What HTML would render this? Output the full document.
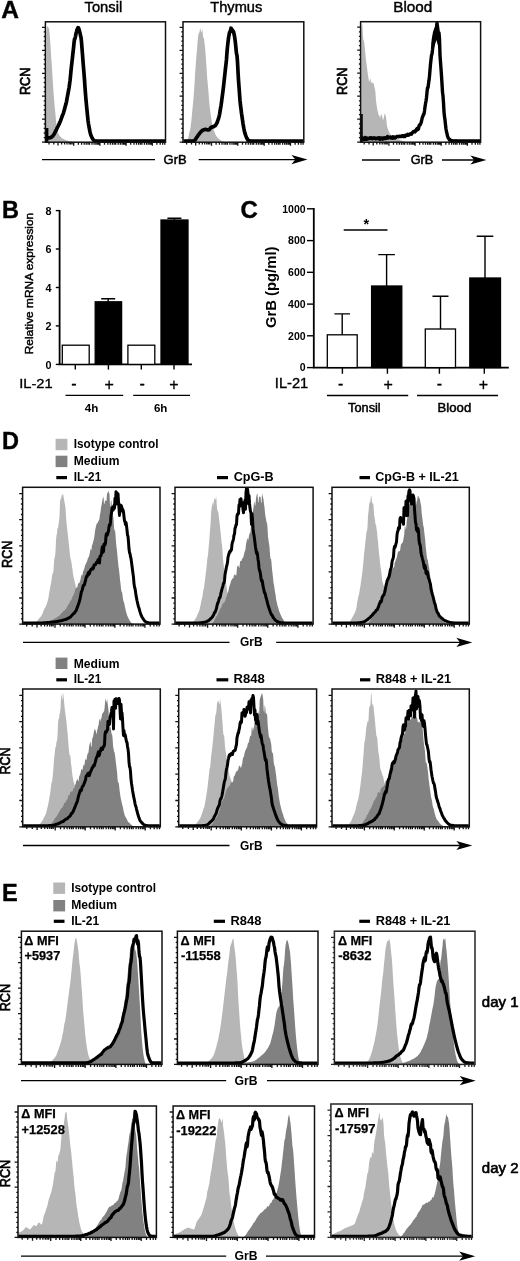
<!DOCTYPE html>
<html lang="en"><head><meta charset="utf-8"><title>Figure</title>
<style>html,body{margin:0;padding:0;background:#fff}svg{display:block;filter:blur(0.45px)}svg text{font-family:"Liberation Sans",sans-serif}</style>
</head><body>
<svg width="520" height="1261" viewBox="0 0 520 1261">
<rect width="520" height="1261" fill="#fff"/>
<text x="1.3" y="18.4" font-size="24.5" font-weight="bold" text-anchor="start" fill="#000" stroke="#000" stroke-width="0.4">A</text>
<text x="103.4" y="11.6" font-size="15.5" font-weight="normal" text-anchor="middle" fill="#000" textLength="37.6" lengthAdjust="spacingAndGlyphs" stroke="#000" stroke-width="0.45">Tonsil</text>
<text x="236.3" y="11.6" font-size="15.5" font-weight="normal" text-anchor="middle" fill="#000" textLength="52" lengthAdjust="spacingAndGlyphs" stroke="#000" stroke-width="0.45">Thymus</text>
<text x="412.8" y="11.6" font-size="15.5" font-weight="normal" text-anchor="middle" fill="#000" textLength="39" lengthAdjust="spacingAndGlyphs" stroke="#000" stroke-width="0.45">Blood</text>
<clipPath id="c1"><rect x="45.4" y="21.2" width="120.1" height="122.2"/></clipPath>
<path d="M46 142.2L46 141L46.5 31L47 26.4L47.5 25.9L48 27.5L48.5 27.4L49 28.4L49.5 32.8L50 38.5L50.5 46.1L51 54.7L51.5 61.5L52 68.8L52.5 76.7L53 84.4L53.5 91.7L54 98.8L54.5 104.8L55 109.6L55.5 115.1L56 120.3L56.5 124.6L57 128.7L57.5 131.2L58 132.5L58.5 133.7L59 134.7L59.5 135.5L60 136.2L60.5 136.8L61 137.3L61.5 137.8L62 138.2L62.5 138.5L63 138.8L63.5 139.1L64 139.3L64.5 139.5L65 139.7L65.5 139.9L66 140.2L66.5 140.3L67 140.5L67.5 140.6L68 140.8L68.5 140.9L69 141.1L69.5 141.2L70 141.3L70.5 141.4L71 141.5L71.5 141.7L72 141.7L72.5 141.8L73 141.9L73.5 142L74 142.1L74.5 142.1L75 142.2L75 142.2Z" fill="#b6b6b6" clip-path="url(#c1)"/>
<path d="M45.9 137.9L46 137.9L46.5 137.9L47 137.9L47.5 137.9L48 137.9L48.5 137.9L49 137.8L49.5 137.8L50 137.8L50.5 137.7L51 137.4L51.5 137.1L52 136.7L52.5 136.2L53 135.7L53.5 135L54 134.3L54.5 133.4L55 132.4L55.5 131.4L56 130.5L56.5 129.5L57 128.3L57.5 127.2L58 126.3L58.5 125.3L59 124.4L59.5 123.2L60 122.2L60.5 120.9L61 119.5L61.5 118.2L62 116.7L62.5 115.3L63 114.2L63.5 112.8L64 111L64.5 109.4L65 107.3L65.5 105.5L66 103.8L66.5 101.6L67 98.7L67.5 96.2L68 93.4L68.5 90.6L69 88.1L69.5 84.4L70 80.7L70.5 76.1L71 70.6L71.5 65.9L72 61.6L72.5 57.2L73 52.5L73.5 48.2L74 43.1L74.5 39.3L75 38.5L75.5 36.3L76 33.6L76.5 31.8L77 29.7L77.5 28.8L78 27.6L78.5 27.9L79 29.4L79.5 31L80 33.1L80.5 35.4L81 37.5L81.5 41.9L82 48.4L82.5 54.6L83 61.4L83.5 67.7L84 73.4L84.5 80L85 87.4L85.5 94.1L86 99.9L86.5 105.3L87 110.4L87.5 115.4L88 120.3L88.5 124L89 126.6L89.5 129.4L90 131.9L90.5 134L91 135.5L91.5 136.6L92 137.6L92.5 138.5L93 139.3L93.5 140L94 140.5L94.5 140.8L95 141L95.5 141.1L96 141.1L96.5 141.2L97 141.2L97.5 141.2L98 141.2L98.5 141.2L99 141.2L99.5 141.2L100 141.2L165 141.2" fill="none" stroke="#000" stroke-width="3.7" stroke-linejoin="round" stroke-linecap="butt" clip-path="url(#c1)"/>
<path d="M47.1 128V142.2" stroke="#000" stroke-width="2.6" fill="none"/>
<rect x="45.4" y="21.8" width="120.1" height="120.4" fill="none" stroke="#111" stroke-width="1.5"/>
<path d="M42 142.2h3.4M43.7 137.6h1.7M43.7 133h1.7M43.7 128.4h1.7M43.7 123.8h1.7M42 119.2h3.4M43.7 114.6h1.7M43.7 110h1.7M43.7 105.4h1.7M43.7 100.8h1.7M42 96.2h3.4M43.7 91.7h1.7M43.7 87.1h1.7M43.7 82.5h1.7M43.7 77.9h1.7M42 73.3h3.4M43.7 68.7h1.7M43.7 64.1h1.7M43.7 59.5h1.7M43.7 54.9h1.7M42 50.3h3.4M43.7 45.7h1.7M43.7 41.1h1.7M43.7 36.5h1.7M43.7 31.9h1.7M42 27.3h3.4M49 142.2v2.3M53.8 142.2v2.3M58 142.2v3.3M61.6 142.2v2.3M64.6 142.2v2.3M67 142.2v2.3M69.1 142.2v2.3M70.6 142.2v2.3M72.1 142.2v2.3M73.7 142.2v3.6M78.4 142.2v2.5M81.6 142.2v2.5M84.2 142.2v2.5M86.2 142.2v2.5M88 142.2v2.5M89.5 142.2v2.5M92 142.2v2.5M94.1 142.2v2.5M95.9 142.2v2.5M97.4 142.2v2.5M98.7 142.2v2.5M99.9 142.2v3.6M104.5 142.2v2.5M107.8 142.2v2.5M110.3 142.2v2.5M112.4 142.2v2.5M114.2 142.2v2.5M115.7 142.2v2.5M118.2 142.2v2.5M120.3 142.2v2.5M122.1 142.2v2.5M123.6 142.2v2.5M124.9 142.2v2.5M126.1 142.2v3.6M130.7 142.2v2.5M134 142.2v2.5M136.5 142.2v2.5M138.6 142.2v2.5M140.4 142.2v2.5M141.9 142.2v2.5M144.4 142.2v2.5M146.5 142.2v2.5M148.2 142.2v2.5M149.8 142.2v2.5M151.1 142.2v2.5M152.3 142.2v3.6M156.9 142.2v2.5M160.2 142.2v2.5M162.7 142.2v2.5M164.8 142.2v2.5" stroke="#111" stroke-width="1.3" fill="none"/>
<clipPath id="c2"><rect x="183" y="21.2" width="120.8" height="122.2"/></clipPath>
<path d="M186 142.2L186 142.2L186.5 141.9L187 141.2L187.5 140L188 138.5L188.5 136.7L189 134.4L189.5 132.1L190 130.2L190.5 127.5L191 123.6L191.5 119.2L192 113.9L192.5 108.4L193 103.5L193.5 97.9L194 91.4L194.5 84.1L195 75.4L195.5 67.5L196 61.2L196.5 54.9L197 49.4L197.5 42.8L198 36.9L198.5 34.1L199 33.1L199.5 32.2L200 29.1L200.5 28.6L201 32.2L201.5 32.6L202 29.2L202.5 30.5L203 36.2L203.5 38.1L204 38.3L204.5 42.9L205 47.4L205.5 53.3L206 60.1L206.5 67.1L207 75.8L207.5 81.8L208 86.3L208.5 92.6L209 99L209.5 104.5L210 109.3L210.5 113.2L211 117L211.5 120L212 122.9L212.5 125.4L213 127.5L213.5 129.4L214 130.6L214.5 132L215 133.4L215.5 134.5L216 135.4L216.5 136.2L217 136.9L217.5 137.5L218 138L218.5 138.5L219 139L219.5 139.4L220 139.8L220.5 140.2L221 140.5L221.5 140.7L222 141L222.5 141.2L223 141.4L223.5 141.6L224 141.8L224.5 141.9L225 142L225.5 142.1L226 142.2L226 142.2Z" fill="#b6b6b6" clip-path="url(#c2)"/>
<path d="M183.5 141.2L190 141.2L190.5 141.2L191 141.2L191.5 141.2L192 141.2L192.5 141.2L193 141.1L193.5 141L194 140.9L194.5 140.6L195 140L195.5 139.3L196 138.5L196.5 137.7L197 137L197.5 136.3L198 135.5L198.5 134.7L199 134.2L199.5 133.5L200 132.8L200.5 132.3L201 131.7L201.5 131.3L202 130.8L202.5 130.4L203 130.1L203.5 129.8L204 129.7L204.5 129.6L205 129.4L205.5 129.4L206 129.5L206.5 129.7L207 129.7L207.5 129.8L208 129.8L208.5 129.8L209 129.8L209.5 129.4L210 128.7L210.5 128.1L211 127.4L211.5 127.1L212 127.2L212.5 127L213 126.8L213.5 126.7L214 126.3L214.5 126.1L215 125.9L215.5 125.4L216 124.7L216.5 123.7L217 122.8L217.5 121.5L218 120L218.5 118.6L219 116.7L219.5 114.6L220 111.7L220.5 108.4L221 105.8L221.5 102.3L222 98.2L222.5 94.7L223 90.7L223.5 86.7L224 82.1L224.5 77.4L225 73L225.5 68.2L226 64.1L226.5 59.2L227 52.2L227.5 46.6L228 42.2L228.5 38.2L229 35.3L229.5 32.5L230 31.8L230.5 30.3L231 28.2L231.5 28.9L232 29.9L232.5 30.4L233 31.4L233.5 31.7L234 33.8L234.5 36.2L235 39.5L235.5 43.6L236 48.7L236.5 53.6L237 55.6L237.5 61.8L238 71.6L238.5 80.1L239 86.9L239.5 93.7L240 100.5L240.5 105.2L241 109.1L241.5 113.3L242 116.6L242.5 120L243 123.6L243.5 126.5L244 129.2L244.5 131.5L245 133.4L245.5 134.9L246 136.2L246.5 137.4L247 138.5L247.5 139.4L248 140.1L248.5 140.5L249 140.7L249.5 140.8L250 140.9L250.5 141L251 141.1L251.5 141.2L252 141.2L252.5 141.2L253 141.2L303.3 141.2" fill="none" stroke="#000" stroke-width="3.7" stroke-linejoin="round" stroke-linecap="butt" clip-path="url(#c2)"/>
<rect x="183" y="21.8" width="120.8" height="120.4" fill="none" stroke="#111" stroke-width="1.5"/>
<path d="M179.6 142.2h3.4M181.3 137.6h1.7M181.3 133h1.7M181.3 128.4h1.7M181.3 123.8h1.7M179.6 119.2h3.4M181.3 114.6h1.7M181.3 110h1.7M181.3 105.4h1.7M181.3 100.8h1.7M179.6 96.2h3.4M181.3 91.7h1.7M181.3 87.1h1.7M181.3 82.5h1.7M181.3 77.9h1.7M179.6 73.3h3.4M181.3 68.7h1.7M181.3 64.1h1.7M181.3 59.5h1.7M181.3 54.9h1.7M179.6 50.3h3.4M181.3 45.7h1.7M181.3 41.1h1.7M181.3 36.5h1.7M181.3 31.9h1.7M179.6 27.3h3.4M186.6 142.2v2.3M191.5 142.2v2.3M195.7 142.2v3.3M199.3 142.2v2.3M202.3 142.2v2.3M204.7 142.2v2.3M206.8 142.2v2.3M208.4 142.2v2.3M209.8 142.2v2.3M211.5 142.2v3.6M216.1 142.2v2.5M219.4 142.2v2.5M222 142.2v2.5M224.1 142.2v2.5M225.8 142.2v2.5M227.4 142.2v2.5M229.9 142.2v2.5M232 142.2v2.5M233.8 142.2v2.5M235.3 142.2v2.5M236.6 142.2v2.5M237.8 142.2v3.6M242.5 142.2v2.5M245.8 142.2v2.5M248.3 142.2v2.5M250.4 142.2v2.5M252.2 142.2v2.5M253.7 142.2v2.5M256.3 142.2v2.5M258.3 142.2v2.5M260.1 142.2v2.5M261.6 142.2v2.5M263 142.2v2.5M264.2 142.2v3.6M268.8 142.2v2.5M272.1 142.2v2.5M274.7 142.2v2.5M276.7 142.2v2.5M278.5 142.2v2.5M280 142.2v2.5M282.6 142.2v2.5M284.7 142.2v2.5M286.4 142.2v2.5M288 142.2v2.5M289.3 142.2v2.5M290.5 142.2v3.6M295.1 142.2v2.5M298.4 142.2v2.5M301 142.2v2.5M303.1 142.2v2.5" stroke="#111" stroke-width="1.3" fill="none"/>
<clipPath id="c3"><rect x="360.6" y="21.1" width="120" height="122.3"/></clipPath>
<path d="M361 142.2L361 142.2L361.5 27.8L362 22.7L362.5 26.4L363 36.2L363.5 40.4L364 40.9L364.5 45.1L365 50.4L365.5 54.7L366 60.4L366.5 63.7L367 67.3L367.5 71.8L368 75.3L368.5 78.6L369 80.9L369.5 81.9L370 79.1L370.5 78.8L371 82.6L371.5 82.9L372 82.2L372.5 82.9L373 82.5L373.5 83.5L374 85.5L374.5 87.5L375 89.1L375.5 93L376 100.6L376.5 104.8L377 107.6L377.5 110.5L378 112.4L378.5 114.5L379 115.2L379.5 116.4L380 118.1L380.5 116.5L381 114.1L381.5 114.4L382 115.8L382.5 118.4L383 120.2L383.5 119L384 116.6L384.5 114.3L385 113.6L385.5 115L386 117.6L386.5 121.6L387 125.9L387.5 127.7L388 129.1L388.5 130.7L389 131.9L389.5 133L390 133.7L390.5 134.4L391 135.1L391.5 135.7L392 136.4L392.5 136.8L393 136.9L393.5 137.3L394 137.7L394.5 138L395 138.1L395.5 138.3L396 138.6L396.5 138.8L397 138.9L397.5 139.1L398 139.4L398.5 139.5L399 139.6L399.5 139.8L400 140L400.5 140.2L401 140.3L401.5 140.5L402 140.7L402.5 140.9L403 141.2L403.5 141.3L404 141.5L404.5 141.7L405 141.8L405.5 142L406 142.2L406 142.2Z" fill="#b6b6b6" clip-path="url(#c3)"/>
<path d="M361.1 138.9L362 138.9L362.5 138L363 138.5L363.5 138.3L364 139.6L364.5 139L365 137.4L365.5 139.1L366 139.3L366.5 138.5L367 138L367.5 139.1L368 138.6L368.5 138.4L369 138.6L369.5 138.3L370 137.7L370.5 138.4L371 138.6L371.5 137.8L372 138.1L372.5 138.8L373 138.4L373.5 138.2L374 137.7L374.5 138L375 138.5L375.5 138.3L376 138.9L376.5 138.6L377 138.1L377.5 138.6L378 138.3L378.5 137.9L379 138.8L379.5 137.7L380 139.3L380.5 138.7L381 137.9L381.5 137.9L382 138.7L382.5 139.1L383 137.9L383.5 138.1L384 138.7L384.5 138.1L385 137.7L385.5 138.6L386 138.5L386.5 137.7L387 137.4L387.5 136.5L388 138.1L388.5 137.2L389 137.8L389.5 137.7L390 137.3L390.5 137.1L391 138L391.5 137.7L392 137.5L392.5 138.2L393 136.8L393.5 137.3L394 137.9L394.5 137L395 137.9L395.5 137.5L396 137.3L396.5 136.8L397 136.4L397.5 136.6L398 136.7L398.5 136.8L399 136.3L399.5 136.6L400 136.3L400.5 136.4L401 136.6L401.5 136L402 135.7L402.5 135.8L403 136.5L403.5 135.6L404 135.6L404.5 136.4L405 136.6L405.5 135.3L406 135.4L406.5 135.2L407 134.9L407.5 134.4L408 135.3L408.5 135L409 135.1L409.5 134.1L410 134L410.5 133.9L411 133.5L411.5 134.2L412 133.1L412.5 132.8L413 132L413.5 131.5L414 131.4L414.5 131.7L415 131.9L415.5 130.7L416 131L416.5 129.3L417 128.8L417.5 128.2L418 129.4L418.5 129L419 126L419.5 124.9L420 125.1L420.5 123.9L421 122.9L421.5 121.3L422 118.7L422.5 117.1L423 116L423.5 114.1L424 114L424.5 110.9L425 106.9L425.5 103.8L426 101.1L426.5 97.4L427 92.3L427.5 87.6L428 87.7L428.5 83.8L429 80.6L429.5 76.1L430 69.9L430.5 64.2L431 59.6L431.5 55.4L432 54L432.5 49.9L433 43.3L433.5 38.5L434 36.2L434.5 32.9L435 31.2L435.5 29.9L436 28.6L436.5 27.3L437 23L437.5 26.8L438 30.5L438.5 34.4L439 32.8L439.5 39L440 55.1L440.5 62L441 68.7L441.5 75.9L442 83.9L442.5 92.1L443 95.9L443.5 102.9L444 111.8L444.5 116.8L445 120L445.5 124.9L446 129L446.5 131.7L447 133.6L447.5 136.2L448 137.5L448.5 138.5L449 138.9L449.5 140L450 139.6L450.5 140.3L451 140.4L451.5 141L452 140.8L452.5 140.8L453 140.7L453.5 141.2L454 141.2L454.5 141.2L455 140.7L455.5 141.2L456 140.8L456.5 141.2L457 140.9L480.1 140.9" fill="none" stroke="#000" stroke-width="3.4" stroke-linejoin="round" stroke-linecap="butt" clip-path="url(#c3)"/>
<path d="M361.9 114V142.2" stroke="#000" stroke-width="1.7" fill="none"/>
<rect x="360.6" y="21.7" width="120" height="120.5" fill="none" stroke="#111" stroke-width="1.5"/>
<path d="M357.2 142.2h3.4M358.9 137.6h1.7M358.9 133h1.7M358.9 128.4h1.7M358.9 123.8h1.7M357.2 119.2h3.4M358.9 114.6h1.7M358.9 110h1.7M358.9 105.4h1.7M358.9 100.8h1.7M357.2 96.2h3.4M358.9 91.6h1.7M358.9 87h1.7M358.9 82.4h1.7M358.9 77.8h1.7M357.2 73.2h3.4M358.9 68.6h1.7M358.9 64h1.7M358.9 59.4h1.7M358.9 54.8h1.7M357.2 50.2h3.4M358.9 45.6h1.7M358.9 41h1.7M358.9 36.4h1.7M358.9 31.8h1.7M357.2 27.2h3.4M364.2 142.2v2.3M369 142.2v2.3M373.2 142.2v3.3M376.8 142.2v2.3M379.8 142.2v2.3M382.2 142.2v2.3M384.2 142.2v2.3M385.8 142.2v2.3M387.2 142.2v2.3M388.9 142.2v3.6M393.5 142.2v2.5M396.8 142.2v2.5M399.3 142.2v2.5M401.4 142.2v2.5M403.2 142.2v2.5M404.7 142.2v2.5M407.2 142.2v2.5M409.3 142.2v2.5M411 142.2v2.5M412.5 142.2v2.5M413.9 142.2v2.5M415.1 142.2v3.6M419.7 142.2v2.5M423 142.2v2.5M425.5 142.2v2.5M427.6 142.2v2.5M429.3 142.2v2.5M430.8 142.2v2.5M433.4 142.2v2.5M435.4 142.2v2.5M437.2 142.2v2.5M438.7 142.2v2.5M440 142.2v2.5M441.2 142.2v3.6M445.8 142.2v2.5M449.1 142.2v2.5M451.7 142.2v2.5M453.7 142.2v2.5M455.5 142.2v2.5M457 142.2v2.5M459.5 142.2v2.5M461.6 142.2v2.5M463.3 142.2v2.5M464.9 142.2v2.5M466.2 142.2v2.5M467.4 142.2v3.6M472 142.2v2.5M475.3 142.2v2.5M477.8 142.2v2.5M479.9 142.2v2.5" stroke="#111" stroke-width="1.3" fill="none"/>
<path d="M431.6 44L433.2 34L435.2 26L436.4 22.4L437.6 26L439.4 34L441 44L438.6 48L436.4 40L434 48Z" fill="#000"/>
<text x="30.3" y="81.4" font-size="14.3" font-weight="normal" text-anchor="middle" fill="#000" textLength="27.4" lengthAdjust="spacingAndGlyphs" stroke="#000" stroke-width="0.7" transform="rotate(-90 30.3 81.4)">RCN</text>
<text x="347.2" y="81.2" font-size="14.3" font-weight="normal" text-anchor="middle" fill="#000" textLength="27.4" lengthAdjust="spacingAndGlyphs" stroke="#000" stroke-width="0.7" transform="rotate(-90 347.2 81.2)">RCN</text>
<path d="M42 159.6H155" stroke="#000" stroke-width="1.3" fill="none"/>
<path d="M198.7 159.6H298" stroke="#000" stroke-width="1.3" fill="none"/>
<text x="163.6" y="163.8" font-size="12.4" font-weight="normal" text-anchor="start" fill="#000" textLength="23" lengthAdjust="spacingAndGlyphs" stroke="#000" stroke-width="0.5">GrB</text>
<path d="M307.5 159.6L291.5 155L295.3 159.6L291.5 164.2Z" fill="#000"/>
<path d="M362 160H400" stroke="#000" stroke-width="1.3" fill="none"/>
<path d="M442 160H477" stroke="#000" stroke-width="1.3" fill="none"/>
<text x="410.7" y="164.2" font-size="12.4" font-weight="normal" text-anchor="start" fill="#000" textLength="22.6" lengthAdjust="spacingAndGlyphs" stroke="#000" stroke-width="0.5">GrB</text>
<path d="M486.4 160L470.4 155.4L474.2 160L470.4 164.6Z" fill="#000"/>
<text x="1.9" y="218.1" font-size="23.5" font-weight="bold" text-anchor="start" fill="#000" stroke="#000" stroke-width="0.4">B</text>
<path d="M59.6 209.9V364.4H192" stroke="#000" stroke-width="1.8" fill="none"/>
<path d="M55.8 364.4H59.6" stroke="#000" stroke-width="1.4" fill="none"/>
<text x="51.6" y="368.8" font-size="10.8" font-weight="bold" text-anchor="end" fill="#000">0</text>
<path d="M55.8 325.9H59.6" stroke="#000" stroke-width="1.4" fill="none"/>
<text x="51.6" y="330.3" font-size="10.8" font-weight="bold" text-anchor="end" fill="#000">2</text>
<path d="M55.8 287.5H59.6" stroke="#000" stroke-width="1.4" fill="none"/>
<text x="51.6" y="291.9" font-size="10.8" font-weight="bold" text-anchor="end" fill="#000">4</text>
<path d="M55.8 249H59.6" stroke="#000" stroke-width="1.4" fill="none"/>
<text x="51.6" y="253.4" font-size="10.8" font-weight="bold" text-anchor="end" fill="#000">6</text>
<path d="M55.8 210.6H59.6" stroke="#000" stroke-width="1.4" fill="none"/>
<text x="51.6" y="215" font-size="10.8" font-weight="bold" text-anchor="end" fill="#000">8</text>
<text x="33" y="283.5" font-size="11.4" font-weight="normal" text-anchor="middle" fill="#000" textLength="141.5" lengthAdjust="spacingAndGlyphs" stroke="#000" stroke-width="0.45" transform="rotate(-90 33 283.5)">Relative mRNA expression</text>
<rect x="62.3" y="345.2" width="26.9" height="19.2" fill="#fff" stroke="#000" stroke-width="1.3"/>
<rect x="95.2" y="301.8" width="26.4" height="62.6" fill="#000" stroke="#000" stroke-width="1.3"/>
<path d="M101.2 298.8H115.2M108.2 298.8V302" stroke="#000" stroke-width="1.4" fill="none"/>
<rect x="127.9" y="345.2" width="26.9" height="19.2" fill="#fff" stroke="#000" stroke-width="1.3"/>
<rect x="161" y="220" width="27" height="144.4" fill="#000" stroke="#000" stroke-width="1.3"/>
<path d="M167.4 218.3H181.4M174.4 218.3V220" stroke="#000" stroke-width="1.4" fill="none"/>
<path d="M75.3 364.4V369.6" stroke="#000" stroke-width="1.4"/>
<path d="M108.4 364.4V369.6" stroke="#000" stroke-width="1.4"/>
<path d="M141.3 364.4V369.6" stroke="#000" stroke-width="1.4"/>
<path d="M174 364.4V369.6" stroke="#000" stroke-width="1.4"/>
<text x="19.2" y="388.1" font-size="13.5" font-weight="normal" text-anchor="start" fill="#000" textLength="33.5" lengthAdjust="spacingAndGlyphs" stroke="#000" stroke-width="0.35">IL-21</text>
<text x="73.8" y="388.6" font-size="16" font-weight="normal" text-anchor="middle" fill="#000" stroke="#000" stroke-width="0.3">-</text>
<text x="109.2" y="390.1" font-size="16" font-weight="normal" text-anchor="middle" fill="#000" stroke="#000" stroke-width="0.3">+</text>
<text x="142.2" y="388.6" font-size="16" font-weight="normal" text-anchor="middle" fill="#000" stroke="#000" stroke-width="0.3">-</text>
<text x="173.8" y="390.1" font-size="16" font-weight="normal" text-anchor="middle" fill="#000" stroke="#000" stroke-width="0.3">+</text>
<path d="M65.5 395.4H123.2" stroke="#000" stroke-width="1.3" fill="none"/>
<path d="M133.2 395.4H190" stroke="#000" stroke-width="1.3" fill="none"/>
<text x="91.6" y="412.4" font-size="11.6" font-weight="bold" text-anchor="middle" fill="#000">4h</text>
<text x="160.7" y="412.4" font-size="11.6" font-weight="bold" text-anchor="middle" fill="#000">6h</text>
<text x="240.6" y="218.3" font-size="24" font-weight="bold" text-anchor="start" fill="#000" stroke="#000" stroke-width="0.4">C</text>
<path d="M313.8 208.1V367.6H508.8" stroke="#000" stroke-width="1.8" fill="none"/>
<path d="M307 367.6H313.8" stroke="#000" stroke-width="1.4" fill="none"/>
<text x="305.6" y="371.4" font-size="10.5" font-weight="bold" text-anchor="end" fill="#000">0</text>
<path d="M307 335.8H313.8" stroke="#000" stroke-width="1.4" fill="none"/>
<text x="305.6" y="339.6" font-size="10.5" font-weight="bold" text-anchor="end" fill="#000">200</text>
<path d="M307 304.1H313.8" stroke="#000" stroke-width="1.4" fill="none"/>
<text x="305.6" y="307.9" font-size="10.5" font-weight="bold" text-anchor="end" fill="#000">400</text>
<path d="M307 272.3H313.8" stroke="#000" stroke-width="1.4" fill="none"/>
<text x="305.6" y="276.1" font-size="10.5" font-weight="bold" text-anchor="end" fill="#000">600</text>
<path d="M307 240.6H313.8" stroke="#000" stroke-width="1.4" fill="none"/>
<text x="305.6" y="244.4" font-size="10.5" font-weight="bold" text-anchor="end" fill="#000">800</text>
<path d="M307 208.8H313.8" stroke="#000" stroke-width="1.4" fill="none"/>
<text x="305.6" y="212.6" font-size="10.5" font-weight="bold" text-anchor="end" fill="#000">1000</text>
<text x="275.8" y="287.3" font-size="14.6" font-weight="bold" text-anchor="middle" fill="#000" textLength="81.5" lengthAdjust="spacingAndGlyphs" transform="rotate(-90 275.8 287.3)">GrB (pg/ml)</text>
<rect x="327.3" y="334.8" width="29.9" height="32.8" fill="#fff" stroke="#000" stroke-width="1.3"/>
<path d="M334.4 313.9H350M342.2 313.9V334.8" stroke="#000" stroke-width="1.4" fill="none"/>
<rect x="371.6" y="286" width="30.2" height="81.6" fill="#000" stroke="#000" stroke-width="1.3"/>
<path d="M378.3 254.6H394.9M386.6 254.6V286" stroke="#000" stroke-width="1.4" fill="none"/>
<rect x="425.3" y="329" width="30.2" height="38.6" fill="#fff" stroke="#000" stroke-width="1.3"/>
<path d="M432.5 296.3H448.5M440.5 296.3V329" stroke="#000" stroke-width="1.4" fill="none"/>
<rect x="469.8" y="278" width="30.7" height="89.6" fill="#000" stroke="#000" stroke-width="1.3"/>
<path d="M476.7 236.3H493.3M485 236.3V278" stroke="#000" stroke-width="1.4" fill="none"/>
<path d="M343.7 230H387.5" stroke="#000" stroke-width="1.4" fill="none"/>
<text x="366.3" y="228.6" font-size="14.5" font-weight="bold" text-anchor="middle" fill="#000">*</text>
<path d="M342.4 367.6V373.8" stroke="#000" stroke-width="1.4"/>
<path d="M387.4 367.6V373.8" stroke="#000" stroke-width="1.4"/>
<path d="M439.4 367.6V373.8" stroke="#000" stroke-width="1.4"/>
<path d="M484.3 367.6V373.8" stroke="#000" stroke-width="1.4"/>
<text x="274.8" y="388.1" font-size="14.3" font-weight="normal" text-anchor="start" fill="#000" textLength="33.5" lengthAdjust="spacingAndGlyphs" stroke="#000" stroke-width="0.35">IL-21</text>
<text x="340.6" y="388.6" font-size="16" font-weight="normal" text-anchor="middle" fill="#000" stroke="#000" stroke-width="0.3">-</text>
<text x="388.2" y="390.1" font-size="16" font-weight="normal" text-anchor="middle" fill="#000" stroke="#000" stroke-width="0.3">+</text>
<text x="439.5" y="388.6" font-size="16" font-weight="normal" text-anchor="middle" fill="#000" stroke="#000" stroke-width="0.3">-</text>
<text x="483.4" y="390.1" font-size="16" font-weight="normal" text-anchor="middle" fill="#000" stroke="#000" stroke-width="0.3">+</text>
<path d="M327 395.5H408.2" stroke="#000" stroke-width="1.3" fill="none"/>
<path d="M417 395.5H498" stroke="#000" stroke-width="1.3" fill="none"/>
<text x="364.4" y="412.2" font-size="12.8" font-weight="normal" text-anchor="middle" fill="#000" textLength="32.6" lengthAdjust="spacingAndGlyphs" stroke="#000" stroke-width="0.5">Tonsil</text>
<text x="454.4" y="412.2" font-size="12.8" font-weight="normal" text-anchor="middle" fill="#000" textLength="33.6" lengthAdjust="spacingAndGlyphs" stroke="#000" stroke-width="0.5">Blood</text>
<text x="2.1" y="448.9" font-size="23.5" font-weight="bold" text-anchor="start" fill="#000" stroke="#000" stroke-width="0.4">D</text>
<rect x="55.6" y="438.8" width="11.8" height="11.4" fill="#b6b6b6"/>
<text x="73.7" y="448.4" font-size="12.4" font-weight="bold" text-anchor="start" fill="#000" textLength="84.8" lengthAdjust="spacingAndGlyphs">Isotype control</text>
<rect x="55.6" y="455.7" width="11.8" height="11.4" fill="#818181"/>
<text x="73.7" y="465.1" font-size="12.4" font-weight="bold" text-anchor="start" fill="#000" textLength="45.7" lengthAdjust="spacingAndGlyphs">Medium</text>
<path d="M56.3 477.6H67" stroke="#000" stroke-width="3.2"/>
<text x="73.7" y="481.3" font-size="12.4" font-weight="bold" text-anchor="start" fill="#000" textLength="27.5" lengthAdjust="spacingAndGlyphs">IL-21</text>
<path d="M217 477.6H228" stroke="#000" stroke-width="3.2"/>
<text x="233.7" y="481.3" font-size="12.4" font-weight="bold" text-anchor="start" fill="#000" textLength="40" lengthAdjust="spacingAndGlyphs">CpG-B</text>
<path d="M359.5 477.6H370" stroke="#000" stroke-width="3.2"/>
<text x="375.3" y="481.3" font-size="12.4" font-weight="bold" text-anchor="start" fill="#000" textLength="83.4" lengthAdjust="spacingAndGlyphs">CpG-B + IL-21</text>
<clipPath id="c4"><rect x="22.6" y="486.7" width="137.4" height="138.6"/></clipPath>
<path d="M33 624.1L33 624.1L33.5 623.9L34 623.6L34.5 623.3L35 622.9L35.5 622.6L36 622.1L36.5 621.6L37 621.2L37.5 620.6L38 619.9L38.5 619.3L39 618.5L39.5 617.9L40 617.6L40.5 617L41 616.3L41.5 615.6L42 614.8L42.5 613.8L43 612.3L43.5 611L44 609.6L44.5 608.4L45 608L45.5 606.9L46 605.8L46.5 604.6L47 603.5L47.5 601.8L48 599.7L48.5 597.4L49 593.9L49.5 591.2L50 588.4L50.5 585.6L51 583.2L51.5 579.8L52 576.4L52.5 573.6L53 573.3L53.5 570.6L54 562.1L54.5 557.6L55 557.2L55.5 551.2L56 540.3L56.5 535.3L57 533.6L57.5 527.9L58 527.9L58.5 524.8L59 520.9L59.5 516L60 502.7L60.5 498.2L61 499.4L61.5 496.1L62 494.8L62.5 495.4L63 493.3L63.5 496.4L64 499.3L64.5 502.4L65 504.4L65.5 507.9L66 516.5L66.5 522.6L67 527.8L67.5 531.8L68 536.1L68.5 541.3L69 545.6L69.5 550.6L70 555.2L70.5 558.5L71 560.1L71.5 562.8L72 566.6L72.5 569.4L73 574.1L73.5 576.7L74 578.5L74.5 581L75 583.1L75.5 585.1L76 588.3L76.5 590L77 591.5L77.5 593.3L78 593.5L78.5 595.2L79 597.7L79.5 598.9L80 599.4L80.5 600.4L81 601.1L81.5 602.3L82 604L82.5 605.2L83 605.9L83.5 606.8L84 608.8L84.5 609.8L85 610.6L85.5 611.5L86 612L86.5 612.8L87 613.9L87.5 614.6L88 615.1L88.5 615.9L89 616.5L89.5 617.2L90 617.9L90.5 618.6L91 619.1L91.5 619.7L92 620.6L92.5 621.1L93 621.6L93.5 622.1L94 622.6L94.5 623L95 623.4L95.5 623.7L96 624.1L96 624.1Z" fill="#b6b6b6" clip-path="url(#c4)"/>
<path d="M43 624.1L43 624.1L43.5 623.9L44 623.8L44.5 623.6L45 623.4L45.5 623.2L46 623L46.5 622.8L47 622.6L47.5 622.4L48 622.3L48.5 622.1L49 621.8L49.5 621.6L50 621.4L50.5 621.2L51 620.9L51.5 620.6L52 620.1L52.5 619.8L53 619.8L53.5 619.5L54 619L54.5 618.7L55 618.4L55.5 618.1L56 618.1L56.5 617.8L57 617.2L57.5 616.8L58 616.6L58.5 616.1L59 616.2L59.5 615.8L60 614.7L60.5 614.3L61 613.7L61.5 613.2L62 613L62.5 612.4L63 611.5L63.5 611L64 610.9L64.5 610.3L65 610.1L65.5 609.5L66 608.8L66.5 608.1L67 606.8L67.5 606L68 605.2L68.5 604.2L69 603.7L69.5 602.9L70 601.3L70.5 600.5L71 600.8L71.5 599.4L72 597.7L72.5 596.6L73 596L73.5 594.9L74 593.8L74.5 592.7L75 590.1L75.5 589.2L76 588.2L76.5 587.3L77 587.8L77.5 586.6L78 583.8L78.5 582.9L79 583.5L79.5 582.5L80 581.1L80.5 579.5L81 576.5L81.5 574.6L82 575.8L82.5 574.7L83 571.8L83.5 570.5L84 569.4L84.5 568L85 565.8L85.5 564.5L86 563.7L86.5 562.3L87 561.6L87.5 560.1L88 557.5L88.5 557.7L89 556.2L89.5 554.4L90 551.8L90.5 548.2L91 550.8L91.5 549.2L92 544.9L92.5 544.6L93 542.2L93.5 540.6L94 538.8L94.5 535.4L95 531.2L95.5 528.6L96 526.3L96.5 524.2L97 523.2L97.5 523.2L98 522.1L98.5 520.6L99 520.7L99.5 518.3L100 514.5L100.5 512.4L101 507.6L101.5 505.6L102 501.9L102.5 499.5L103 497.8L103.5 496.4L104 504.1L104.5 503.7L105 500.6L105.5 500.3L106 501.2L106.5 500.7L107 493.8L107.5 493.3L108 491.3L108.5 491.3L109 492.9L109.5 493.9L110 505.6L110.5 506.9L111 499.6L111.5 501.8L112 507.7L112.5 511.1L113 515.4L113.5 519L114 527L114.5 531.1L115 529.8L115.5 534.7L116 542.1L116.5 547L117 551.1L117.5 556.6L118 561.8L118.5 566.5L119 569.9L119.5 574.3L120 579.4L120.5 583.4L121 588.6L121.5 591.6L122 592.2L122.5 595L123 599.1L123.5 601.3L124 602.2L124.5 604.5L125 607.2L125.5 609.4L126 611.4L126.5 613.3L127 615.1L127.5 616.3L128 617.3L128.5 618.3L129 619.4L129.5 620.3L130 621L130.5 621.8L131 622.4L131.5 623L132 623.4L132.5 623.6L133 623.7L133.5 623.8L134 623.9L134.5 624L135 624.1L135.5 624.1L136 624.1L136 624.1Z" fill="#818181" clip-path="url(#c4)"/>
<path d="M23.1 623L40 623L40.5 623L41 623L41.5 622.9L42 622.9L42.5 622.9L43 622.9L43.5 622.8L44 622.8L44.5 622.8L45 622.7L45.5 622.7L46 622.7L46.5 622.6L47 622.6L47.5 622.5L48 622.5L48.5 622.4L49 622.4L49.5 622.4L50 622.3L50.5 622.2L51 622.2L51.5 622.1L52 622.1L52.5 622.1L53 622L53.5 621.9L54 621.9L54.5 621.9L55 621.7L55.5 621.7L56 621.7L56.5 621.6L57 621.5L57.5 621.4L58 621.3L58.5 621.3L59 621L59.5 620.9L60 620.9L60.5 620.8L61 620.7L61.5 620.6L62 620.5L62.5 620.3L63 620.1L63.5 620L64 619.9L64.5 619.7L65 619.7L65.5 619.5L66 619.3L66.5 619.1L67 618.9L67.5 618.7L68 618.4L68.5 618.1L69 617.8L69.5 617.5L70 617.3L70.5 617L71 616.4L71.5 615.8L72 615.3L72.5 614.7L73 614.1L73.5 613.5L74 613.5L74.5 613L75 612L75.5 611.2L76 610.9L76.5 609.9L77 608L77.5 606.9L78 605.5L78.5 604.1L79 602.7L79.5 600.8L80 598.9L80.5 596.7L81 593.7L81.5 591.7L82 590.7L82.5 589L83 586.3L83.5 585.2L84 585.4L84.5 584.4L85 582.1L85.5 580.7L86 578.3L86.5 576.4L87 576.8L87.5 575.4L88 573.5L88.5 572.5L89 574.2L89.5 573.4L90 571.1L90.5 570.3L91 569.3L91.5 569.4L92 568.5L92.5 567.8L93 568.9L93.5 567.9L94 565L94.5 565.2L95 564.9L95.5 564.6L96 563.3L96.5 562.3L97 562.5L97.5 561.5L98 559.7L98.5 559.2L99 562.7L99.5 562.9L100 556.4L100.5 555.7L101 555.7L101.5 553.2L102 548.8L102.5 546.7L103 552.2L103.5 551.4L104 544.2L104.5 543.7L105 544.9L105.5 543.2L106 535.6L106.5 533.7L107 535.4L107.5 534.7L108 532.4L108.5 531.1L109 526.6L109.5 524.7L110 525.4L110.5 522.2L111 515.5L111.5 512.9L112 508.5L112.5 507.4L113 510.1L113.5 509.3L114 505.6L114.5 508.1L115 498.3L115.5 504.4L116 491.7L116.5 492.6L117 496.3L117.5 503.7L118 493.7L118.5 501.8L119 508L119.5 515.4L120 504.7L120.5 506.6L121 505.3L121.5 506L122 508L122.5 511.2L123 509.7L123.5 512L124 516.8L124.5 520.7L125 521.8L125.5 524.6L126 522.5L126.5 525.6L127 530L127.5 535L128 536.3L128.5 541.8L129 548.8L129.5 552.6L130 553.6L130.5 556.7L131 558.5L131.5 562.3L132 566L132.5 570L133 573.8L133.5 577.5L134 583.6L134.5 587L135 588.5L135.5 591.6L136 595.4L136.5 597.9L137 600.5L137.5 602.8L138 604.9L138.5 607L139 608.1L139.5 610L140 611.9L140.5 613.4L141 614.9L141.5 616L142 617L142.5 617.8L143 618.6L143.5 619.4L144 620.1L144.5 620.7L145 621.3L145.5 621.7L146 621.9L146.5 622.2L147 622.3L147.5 622.5L148 622.7L148.5 622.8L149 622.9L149.5 623L150 623L159.5 623" fill="none" stroke="#000" stroke-width="3.0" stroke-linejoin="round" stroke-linecap="butt" clip-path="url(#c4)"/>
<rect x="22.6" y="487.3" width="137.4" height="136.8" fill="none" stroke="#111" stroke-width="1.5"/>
<path d="M19.2 624.1h3.4M20.9 618.9h1.7M20.9 613.7h1.7M20.9 608.4h1.7M20.9 603.2h1.7M19.2 598h3.4M20.9 592.8h1.7M20.9 587.6h1.7M20.9 582.3h1.7M20.9 577.1h1.7M19.2 571.9h3.4M20.9 566.7h1.7M20.9 561.4h1.7M20.9 556.2h1.7M20.9 551h1.7M19.2 545.8h3.4M20.9 540.6h1.7M20.9 535.3h1.7M20.9 530.1h1.7M20.9 524.9h1.7M19.2 519.7h3.4M20.9 514.5h1.7M20.9 509.2h1.7M20.9 504h1.7M20.9 498.8h1.7M19.2 493.6h3.4M26.7 624.1v2.3M32.2 624.1v2.3M37 624.1v3.3M41.1 624.1v2.3M44.6 624.1v2.3M47.3 624.1v2.3M49.7 624.1v2.3M51.5 624.1v2.3M53.1 624.1v2.3M55 624.1v3.6M60.3 624.1v2.5M64 624.1v2.5M66.9 624.1v2.5M69.3 624.1v2.5M71.3 624.1v2.5M73.1 624.1v2.5M76 624.1v2.5M78.3 624.1v2.5M80.3 624.1v2.5M82.1 624.1v2.5M83.6 624.1v2.5M85 624.1v3.6M90.3 624.1v2.5M94 624.1v2.5M96.9 624.1v2.5M99.3 624.1v2.5M101.3 624.1v2.5M103 624.1v2.5M105.9 624.1v2.5M108.3 624.1v2.5M110.3 624.1v2.5M112 624.1v2.5M113.6 624.1v2.5M114.9 624.1v3.6M120.2 624.1v2.5M123.9 624.1v2.5M126.9 624.1v2.5M129.2 624.1v2.5M131.2 624.1v2.5M133 624.1v2.5M135.9 624.1v2.5M138.2 624.1v2.5M140.2 624.1v2.5M142 624.1v2.5M143.5 624.1v2.5M144.9 624.1v3.6M150.2 624.1v2.5M153.9 624.1v2.5M156.8 624.1v2.5M159.2 624.1v2.5" stroke="#111" stroke-width="1.3" fill="none"/>
<clipPath id="c5"><rect x="175" y="486.7" width="138.1" height="138.6"/></clipPath>
<path d="M190 624.1L190 624.1L190.5 624L191 623.9L191.5 623.7L192 623.3L192.5 622.8L193 622.2L193.5 621.6L194 621L194.5 620.2L195 619.6L195.5 618.8L196 617.9L196.5 616.9L197 615.7L197.5 614.5L198 613.6L198.5 612.5L199 611.2L199.5 609.9L200 607.6L200.5 605.3L201 602.7L201.5 600L202 598.3L202.5 595.8L203 592.2L203.5 589.5L204 587.7L204.5 583.9L205 580L205.5 575.4L206 571.3L206.5 567.4L207 562.1L207.5 557.6L208 555L208.5 548.9L209 543.3L209.5 538L210 529.9L210.5 525L211 514L211.5 509L212 505.4L212.5 502L213 506.1L213.5 503.2L214 500.3L214.5 498.6L215 499L215.5 500.3L216 496L216.5 500L217 508.8L217.5 510.6L218 511.9L218.5 512.9L219 518.4L219.5 522.3L220 526.7L220.5 532.1L221 536L221.5 542.4L222 544.4L222.5 550.4L223 559.7L223.5 563.3L224 568.7L224.5 573L225 575.3L225.5 579.5L226 582.8L226.5 586.6L227 590.3L227.5 592.7L228 593.6L228.5 595.4L229 597.1L229.5 598.5L230 601L230.5 602.5L231 603.8L231.5 605.4L232 605.8L232.5 607.1L233 609.3L233.5 610.4L234 611.5L234.5 612.5L235 613L235.5 614L236 614.9L236.5 615.8L237 617.2L237.5 618L238 618.6L238.5 619.4L239 620.3L239.5 621L240 621.6L240.5 622.3L241 623L241.5 623.6L242 624.1L242 624.1Z" fill="#b6b6b6" clip-path="url(#c5)"/>
<path d="M212 624.1L212 624.1L212.5 623.3L213 622.5L213.5 621.7L214 620.9L214.5 620.1L215 619.1L215.5 618.3L216 617L216.5 616.2L217 616L217.5 615.1L218 613.6L218.5 612.7L219 611.5L219.5 610.5L220 609.2L220.5 607.9L221 608L221.5 607L222 605.1L222.5 604.3L223 603.5L223.5 602.5L224 602.9L224.5 602.2L225 600.8L225.5 599.9L226 597.9L226.5 596.2L227 595.5L227.5 593.4L228 592.2L228.5 590.7L229 587.6L229.5 586.2L230 584.6L230.5 583.3L231 580.9L231.5 580L232 579.7L232.5 578.3L233 578.6L233.5 577.4L234 574.5L234.5 574.4L235 575.5L235.5 574.6L236 576L236.5 573.9L237 567.2L237.5 565.9L238 565.9L238.5 565.2L239 568.1L239.5 567.2L240 561.9L240.5 560.7L241 561.3L241.5 560.8L242 558.9L242.5 557.7L243 558.4L243.5 556.3L244 554.3L244.5 552.2L245 550.7L245.5 549.6L246 544L246.5 541.9L247 539.6L247.5 537.8L248 540.6L248.5 538.8L249 535.5L249.5 533.4L250 533.5L250.5 531.4L251 525.9L251.5 523.7L252 526.8L252.5 522.2L253 511.1L253.5 507.8L254 502.6L254.5 501.9L255 506.6L255.5 504.1L256 498.6L256.5 495.8L257 494L257.5 493.4L258 501.7L258.5 502.5L259 496.6L259.5 496.7L260 497.1L260.5 496.5L261 502.2L261.5 503.2L262 493.5L262.5 495.2L263 497.6L263.5 499.4L264 504.3L264.5 507.2L265 513.1L265.5 516.6L266 518.9L266.5 522.6L267 522.5L267.5 527.5L268 536.7L268.5 540.2L269 543.5L269.5 547.1L270 554.3L270.5 559.3L271 558.4L271.5 562.6L272 569.2L272.5 573.1L273 577.8L273.5 582.4L274 585.1L274.5 588.4L275 592L275.5 594.6L276 598.4L276.5 601.2L277 603.2L277.5 605.6L278 607.1L278.5 608.8L279 610.7L279.5 612.1L280 613.2L280.5 614.5L281 615.5L281.5 616.5L282 617.8L282.5 618.6L283 619.1L283.5 620L284 621L284.5 621.7L285 622.3L285.5 622.6L286 623L286.5 623.3L287 623.5L287.5 623.8L288 624L288.5 624.1L289 624.1L289 624.1Z" fill="#818181" clip-path="url(#c5)"/>
<path d="M175.5 623L196 623L196.5 623L197 623L197.5 623L198 623L198.5 622.9L199 622.9L199.5 622.9L200 622.8L200.5 622.8L201 622.7L201.5 622.7L202 622.6L202.5 622.6L203 622.5L203.5 622.5L204 622.3L204.5 622.2L205 622.1L205.5 622L206 621.8L206.5 621.6L207 621.4L207.5 621.1L208 620.9L208.5 620.6L209 620.1L209.5 619.7L210 619.4L210.5 618.9L211 618.3L211.5 617.8L212 617.4L212.5 616.8L213 615.8L213.5 614.9L214 613.8L214.5 612.6L215 612.3L215.5 611.1L216 609.7L216.5 608.3L217 605.6L217.5 603.9L218 602.7L218.5 601.1L219 599.3L219.5 597.6L220 597.5L220.5 595.6L221 592.7L221.5 591.2L222 588.9L222.5 587.4L223 585.6L223.5 583.4L224 583L224.5 580.5L225 574.7L225.5 572L226 569.4L226.5 566.4L227 565.1L227.5 562.3L228 557.5L228.5 555.2L229 553.9L229.5 551.8L230 552.3L230.5 550.5L231 550.6L231.5 549.6L232 544.2L232.5 541.9L233 541L233.5 538.7L234 535L234.5 534.1L235 528.4L235.5 527.1L236 524.7L236.5 524.6L237 515.8L237.5 514.1L238 514.3L238.5 513.3L239 505L239.5 506.6L240 499.4L240.5 502.2L241 498.7L241.5 504.9L242 502.2L242.5 505.1L243 509.5L243.5 512.7L244 502.4L244.5 508.7L245 500.3L245.5 509.3L246 492.6L246.5 488.4L247 490L247.5 489L248 493.2L248.5 503.7L249 495.4L249.5 503.2L250 508.6L250.5 511.5L251 512.8L251.5 524.5L252 513.7L252.5 519.5L253 528.2L253.5 532.9L254 535.2L254.5 538.9L255 543L255.5 546.9L256 550L256.5 553.4L257 552.2L257.5 554.6L258 559.2L258.5 562L259 567.7L259.5 570.6L260 571.5L260.5 574.5L261 578.5L261.5 581L262 580.1L262.5 582.3L263 586.2L263.5 588.2L264 590.7L264.5 592.9L265 593.2L265.5 594.9L266 597.5L266.5 599.1L267 600.8L267.5 602.9L268 604.8L268.5 606.5L269 608.3L269.5 609.6L270 611.1L270.5 612.5L271 613.8L271.5 614.7L272 615.1L272.5 615.9L273 617.1L273.5 617.9L274 618.5L274.5 619.3L275 619.8L275.5 620.3L276 620.7L276.5 621L277 621.4L277.5 621.7L278 621.9L278.5 622.2L279 622.3L279.5 622.4L280 622.5L280.5 622.6L281 622.7L281.5 622.7L282 622.8L282.5 622.8L283 622.9L283.5 622.9L284 623L284.5 623L285 623L285.5 623L286 623L312.6 623" fill="none" stroke="#000" stroke-width="3.0" stroke-linejoin="round" stroke-linecap="butt" clip-path="url(#c5)"/>
<rect x="175" y="487.3" width="138.1" height="136.8" fill="none" stroke="#111" stroke-width="1.5"/>
<path d="M171.6 624.1h3.4M173.3 618.9h1.7M173.3 613.7h1.7M173.3 608.4h1.7M173.3 603.2h1.7M171.6 598h3.4M173.3 592.8h1.7M173.3 587.6h1.7M173.3 582.3h1.7M173.3 577.1h1.7M171.6 571.9h3.4M173.3 566.7h1.7M173.3 561.4h1.7M173.3 556.2h1.7M173.3 551h1.7M171.6 545.8h3.4M173.3 540.6h1.7M173.3 535.3h1.7M173.3 530.1h1.7M173.3 524.9h1.7M171.6 519.7h3.4M173.3 514.5h1.7M173.3 509.2h1.7M173.3 504h1.7M173.3 498.8h1.7M171.6 493.6h3.4M179.1 624.1v2.3M184.7 624.1v2.3M189.5 624.1v3.3M193.6 624.1v2.3M197.1 624.1v2.3M199.9 624.1v2.3M202.2 624.1v2.3M204 624.1v2.3M205.7 624.1v2.3M207.6 624.1v3.6M212.9 624.1v2.5M216.7 624.1v2.5M219.6 624.1v2.5M222 624.1v2.5M224 624.1v2.5M225.7 624.1v2.5M228.6 624.1v2.5M231 624.1v2.5M233 624.1v2.5M234.8 624.1v2.5M236.3 624.1v2.5M237.7 624.1v3.6M243 624.1v2.5M246.8 624.1v2.5M249.7 624.1v2.5M252.1 624.1v2.5M254.1 624.1v2.5M255.8 624.1v2.5M258.7 624.1v2.5M261.1 624.1v2.5M263.1 624.1v2.5M264.9 624.1v2.5M266.4 624.1v2.5M267.8 624.1v3.6M273.1 624.1v2.5M276.9 624.1v2.5M279.8 624.1v2.5M282.2 624.1v2.5M284.2 624.1v2.5M285.9 624.1v2.5M288.8 624.1v2.5M291.2 624.1v2.5M293.2 624.1v2.5M295 624.1v2.5M296.5 624.1v2.5M297.9 624.1v3.6M303.2 624.1v2.5M307 624.1v2.5M309.9 624.1v2.5M312.3 624.1v2.5" stroke="#111" stroke-width="1.3" fill="none"/>
<clipPath id="c6"><rect x="332" y="486.7" width="137.3" height="138.6"/></clipPath>
<path d="M346 624.1L346 624.1L346.5 624.1L347 623.9L347.5 623.6L348 623.3L348.5 622.9L349 622.5L349.5 621.9L350 621.4L350.5 620.8L351 619.7L351.5 618.8L352 618L352.5 617.1L353 616.2L353.5 615.3L354 614.3L354.5 613.4L355 612.5L355.5 611L356 609.6L356.5 607.4L357 603.6L357.5 600.7L358 598.3L358.5 595.7L359 594.4L359.5 591.4L360 588L360.5 585.7L361 581.8L361.5 578.1L362 575.2L362.5 570.4L363 565.7L363.5 561L364 554.6L364.5 550.1L365 546.2L365.5 541L366 536.5L366.5 531.4L367 531.5L367.5 526.9L368 516L368.5 511.4L369 506.2L369.5 501.2L370 503.4L370.5 500.3L371 494.8L371.5 497.2L372 501.8L372.5 503.7L373 502.9L373.5 505.4L374 514.4L374.5 517.3L375 520.1L375.5 524.6L376 524.5L376.5 528.2L377 531.9L377.5 537.5L378 541.8L378.5 547.4L379 553.2L379.5 556.9L380 563L380.5 566.8L381 569.8L381.5 573.8L382 579.1L382.5 582.1L383 582.9L383.5 585.3L384 586L384.5 588L385 591.5L385.5 593.3L386 594.3L386.5 595.9L387 597.8L387.5 599.3L388 601L388.5 602.3L389 603.9L389.5 605L390 605.5L390.5 606.7L391 607.2L391.5 608.6L392 610.3L392.5 611.5L393 612.4L393.5 613.5L394 614.8L394.5 615.9L395 616.8L395.5 617.5L396 618.2L396.5 618.8L397 619.2L397.5 619.8L398 620.5L398.5 621.1L399 621.7L399.5 622.2L400 622.7L400.5 623.1L401 623.5L401.5 623.8L402 624.1L402 624.1Z" fill="#b6b6b6" clip-path="url(#c6)"/>
<path d="M367.7 624.1L367.7 624.1L368.2 623.5L368.7 622.7L369.2 622L369.7 621.4L370.2 620.6L370.7 619.6L371.2 618.8L371.7 618.3L372.2 617.5L372.7 616.3L373.2 615.4L373.7 615.1L374.2 614.4L374.7 613.5L375.2 612.7L375.7 612.4L376.2 611.6L376.7 610.6L377.2 610L377.7 609L378.2 608.2L378.7 607L379.2 605.8L379.7 603.6L380.2 602.2L380.7 601.3L381.2 599.9L381.7 598.5L382.2 597L382.7 595L383.2 593.2L383.7 592.8L384.2 591L384.7 588.4L385.2 586.8L385.7 584L386.2 582.5L386.7 584.9L387.2 583.8L387.7 580.4L388.2 578.9L388.7 577.2L389.2 575.1L389.7 575L390.2 573.2L390.7 567.3L391.2 566.3L391.7 570.5L392.2 569.9L392.7 568.8L393.2 568.2L393.7 567.2L394.2 566.4L394.7 562.6L395.2 561.9L395.7 560.1L396.2 559.1L396.7 557.7L397.2 555.6L397.7 553L398.2 551L398.7 552L399.2 550.7L399.7 551.5L400.2 549.8L400.7 546.1L401.2 543.6L401.7 544L402.2 542.8L402.7 542.5L403.2 540.6L403.7 537.5L404.2 535L404.7 526.8L405.2 525.6L405.7 529.8L406.2 528.1L406.7 521L407.2 518.4L407.7 517L408.2 513.8L408.7 507L409.2 504L409.7 504.5L410.2 503.9L410.7 503.1L411.2 503L411.7 505.3L412.2 504.1L412.7 501.4L413.2 500.5L413.7 500.5L414.2 500.4L414.7 507.1L415.2 507L415.7 505.1L416.2 504.5L416.7 501.3L417.2 500.1L417.7 496.4L418.2 495.7L418.7 496.7L419.2 498.9L419.7 497.9L420.2 501.1L420.7 504L421.2 506.1L421.7 513.7L422.2 517L422.7 521.3L423.2 525.6L423.7 526.8L424.2 531.5L424.7 536.1L425.2 540L425.7 546.6L426.2 550.7L426.7 555.3L427.2 559.6L427.7 559.2L428.2 562.7L428.7 565.7L429.2 568.6L429.7 572.8L430.2 575.9L430.7 580.5L431.2 583.7L431.7 586.8L432.2 590L432.7 592.8L433.2 595.8L433.7 597.3L434.2 599.9L434.7 603L435.2 605.1L435.7 607.2L436.2 608.7L436.7 610.6L437.2 611.9L437.7 612.4L438.2 613.6L438.7 615.2L439.2 616.2L439.7 616.7L440.2 617.5L440.7 618.5L441.2 619.2L441.7 619.4L442.2 620L442.7 620.8L443.2 621.2L443.7 621.5L444.2 621.9L444.7 622.3L445.2 622.6L445.7 622.8L446.2 623.1L446.7 623.3L447.2 623.6L447.7 623.7L448.2 623.9L448.7 624L448.7 624.1Z" fill="#818181" clip-path="url(#c6)"/>
<path d="M332.5 623L354 623L354.5 623L355 623L355.5 623L356 623L356.5 622.9L357 622.9L357.5 622.9L358 622.8L358.5 622.8L359 622.7L359.5 622.7L360 622.6L360.5 622.6L361 622.5L361.5 622.4L362 622.3L362.5 622.2L363 622.1L363.5 621.9L364 621.9L364.5 621.6L365 621.3L365.5 621L366 620.5L366.5 620.1L367 619.9L367.5 619.5L368 619.1L368.5 618.6L369 618.2L369.5 617.8L370 617.5L370.5 617.1L371 616.2L371.5 615.6L372 615.4L372.5 614.9L373 614L373.5 613.4L374 613.1L374.5 612.5L375 612.1L375.5 611.5L376 610.5L376.5 609.9L377 609.9L377.5 609.2L378 607.7L378.5 606.8L379 605.1L379.5 603.8L380 602.7L380.5 601.4L381 602.1L381.5 600.9L382 597.8L382.5 596.6L383 596L383.5 595.1L384 594.6L384.5 592.9L385 590.9L385.5 588.2L386 585.6L386.5 583.7L387 581.2L387.5 580L388 579.1L388.5 577.8L389 576.9L389.5 574.7L390 572.1L390.5 569.3L391 568.8L391.5 566.3L392 562L392.5 559.9L393 558.8L393.5 556.5L394 549.2L394.5 546.6L395 547.4L395.5 545.6L396 543.6L396.5 542L397 535L397.5 531.8L398 530.9L398.5 527.7L399 528.8L399.5 528.1L400 518.7L400.5 517.5L401 518.8L401.5 520.2L402 521.7L402.5 520.6L403 521.6L403.5 524.2L404 507.7L404.5 514.8L405 510.5L405.5 514.8L406 501.3L406.5 515.6L407 500.4L407.5 515.7L408 495.7L408.5 495.2L409 490.9L409.5 489.9L410 490.6L410.5 500.9L411 500.3L411.5 504L412 498.7L412.5 502.6L413 495L413.5 496.3L414 498.7L414.5 509.1L415 515.7L415.5 522.7L416 523.6L416.5 529.9L417 528L417.5 531.5L418 528.6L418.5 531.5L419 539.8L419.5 543.9L420 544.2L420.5 547.5L421 552.8L421.5 555.5L422 556.7L422.5 559L423 561L423.5 562.8L424 566.5L424.5 568.4L425 565.6L425.5 567.8L426 572.9L426.5 573.8L427 571.5L427.5 572.3L428 575.6L428.5 577.9L429 579L429.5 581L430 582.6L430.5 584.4L431 588.6L431.5 591L432 592.9L432.5 594.9L433 596.5L433.5 598.6L434 600.7L434.5 602.8L435 604L435.5 605.7L436 608.6L436.5 610L437 611.5L437.5 612.7L438 613L438.5 614.1L439 615.5L439.5 616.2L440 616.5L440.5 617L441 617.5L441.5 618L442 618.3L442.5 618.7L443 619.3L443.5 619.7L444 620L444.5 620.3L445 620.7L445.5 620.9L446 621L446.5 621.3L447 621.4L447.5 621.6L448 621.8L448.5 622L449 622.1L449.5 622.3L450 622.4L450.5 622.5L451 622.6L451.5 622.7L452 622.7L452.5 622.8L453 622.8L453.5 622.9L454 622.9L454.5 622.9L455 623L455.5 623L456 623L468.8 623" fill="none" stroke="#000" stroke-width="3.0" stroke-linejoin="round" stroke-linecap="butt" clip-path="url(#c6)"/>
<rect x="332" y="487.3" width="137.3" height="136.8" fill="none" stroke="#111" stroke-width="1.5"/>
<path d="M328.6 624.1h3.4M330.3 618.9h1.7M330.3 613.7h1.7M330.3 608.4h1.7M330.3 603.2h1.7M328.6 598h3.4M330.3 592.8h1.7M330.3 587.6h1.7M330.3 582.3h1.7M330.3 577.1h1.7M328.6 571.9h3.4M330.3 566.7h1.7M330.3 561.4h1.7M330.3 556.2h1.7M330.3 551h1.7M328.6 545.8h3.4M330.3 540.6h1.7M330.3 535.3h1.7M330.3 530.1h1.7M330.3 524.9h1.7M328.6 519.7h3.4M330.3 514.5h1.7M330.3 509.2h1.7M330.3 504h1.7M330.3 498.8h1.7M328.6 493.6h3.4M336.1 624.1v2.3M341.6 624.1v2.3M346.4 624.1v3.3M350.5 624.1v2.3M354 624.1v2.3M356.7 624.1v2.3M359 624.1v2.3M360.8 624.1v2.3M362.5 624.1v2.3M364.4 624.1v3.6M369.7 624.1v2.5M373.4 624.1v2.5M376.3 624.1v2.5M378.7 624.1v2.5M380.7 624.1v2.5M382.4 624.1v2.5M385.3 624.1v2.5M387.7 624.1v2.5M389.7 624.1v2.5M391.4 624.1v2.5M393 624.1v2.5M394.3 624.1v3.6M399.6 624.1v2.5M403.3 624.1v2.5M406.2 624.1v2.5M408.6 624.1v2.5M410.6 624.1v2.5M412.4 624.1v2.5M415.3 624.1v2.5M417.6 624.1v2.5M419.6 624.1v2.5M421.4 624.1v2.5M422.9 624.1v2.5M424.3 624.1v3.6M429.5 624.1v2.5M433.3 624.1v2.5M436.2 624.1v2.5M438.5 624.1v2.5M440.6 624.1v2.5M442.3 624.1v2.5M445.2 624.1v2.5M447.6 624.1v2.5M449.6 624.1v2.5M451.3 624.1v2.5M452.8 624.1v2.5M454.2 624.1v3.6M459.5 624.1v2.5M463.2 624.1v2.5M466.1 624.1v2.5M468.5 624.1v2.5" stroke="#111" stroke-width="1.3" fill="none"/>
<text x="12" y="554.3" font-size="14.3" font-weight="normal" text-anchor="middle" fill="#000" textLength="27.2" lengthAdjust="spacingAndGlyphs" stroke="#000" stroke-width="0.7" transform="rotate(-90 12 554.3)">RCN</text>
<path d="M23 642.4H229.5" stroke="#000" stroke-width="1.3" fill="none"/>
<path d="M276.2 642.4H462" stroke="#000" stroke-width="1.3" fill="none"/>
<text x="240" y="646.4" font-size="12.4" font-weight="bold" text-anchor="start" fill="#000" textLength="22.5" lengthAdjust="spacingAndGlyphs">GrB</text>
<path d="M472.3 642.4L456.3 637.8L460.1 642.4L456.3 647Z" fill="#000"/>
<rect x="55.6" y="657.6" width="11.8" height="11.4" fill="#818181"/>
<text x="73.7" y="667.5" font-size="12.4" font-weight="bold" text-anchor="start" fill="#000" textLength="45.7" lengthAdjust="spacingAndGlyphs">Medium</text>
<path d="M56.3 679.8H67" stroke="#000" stroke-width="3.2"/>
<text x="73.7" y="683.2" font-size="12.4" font-weight="bold" text-anchor="start" fill="#000" textLength="27.5" lengthAdjust="spacingAndGlyphs">IL-21</text>
<path d="M216.5 679.8H228.3" stroke="#000" stroke-width="3.2"/>
<text x="233.5" y="683.2" font-size="12.4" font-weight="bold" text-anchor="start" fill="#000" textLength="31.3" lengthAdjust="spacingAndGlyphs">R848</text>
<path d="M360 679.8H370.3" stroke="#000" stroke-width="3.2"/>
<text x="375.7" y="683.2" font-size="12.4" font-weight="bold" text-anchor="start" fill="#000" textLength="75.4" lengthAdjust="spacingAndGlyphs">R848 + IL-21</text>
<clipPath id="c7"><rect x="22.7" y="688.4" width="137.6" height="139.6"/></clipPath>
<path d="M36 826.8L36 826.8L36.5 826.7L37 826.6L37.5 826.4L38 826.1L38.5 825.7L39 825.1L39.5 824.5L40 823.9L40.5 823.2L41 822.6L41.5 821.9L42 821.3L42.5 820.6L43 819.6L43.5 818.7L44 817.5L44.5 816.6L45 815.7L45.5 814.5L46 813.4L46.5 811.9L47 809.3L47.5 807.2L48 805.2L48.5 802.7L49 800.1L49.5 796.9L50 794.3L50.5 790.9L51 785.9L51.5 782.9L52 781.9L52.5 778.2L53 772.9L53.5 767.5L54 759.7L54.5 755.3L55 750.3L55.5 747L56 746.4L56.5 741.6L57 741.2L57.5 735.9L58 723.6L58.5 719L59 719L59.5 714.5L60 712.6L60.5 708.7L61 697.3L61.5 693.5L62 699.5L62.5 699.3L63 692.2L63.5 695.4L64 700.8L64.5 706.3L65 711.2L65.5 714.3L66 718.4L66.5 722.1L67 727.9L67.5 732.6L68 738.9L68.5 744.7L69 751.1L69.5 755.8L70 754.3L70.5 757.1L71 763.4L71.5 766.8L72 771.4L72.5 775.7L73 778.5L73.5 781.4L74 782.8L74.5 784.7L75 785.9L75.5 788.1L76 791.3L76.5 792.7L77 793.8L77.5 794.5L78 795.8L78.5 796.9L79 797.9L79.5 799.4L80 800.1L80.5 801.3L81 803L81.5 804L82 805.4L82.5 806.6L83 807.4L83.5 808.7L84 810.3L84.5 811.3L85 812.6L85.5 813.6L86 814.1L86.5 815.1L87 816.4L87.5 817.3L88 817.9L88.5 818.8L89 819.4L89.5 820.2L90 820.8L90.5 821.4L91 822.1L91.5 822.8L92 823.3L92.5 823.9L93 824.5L93.5 824.9L94 825.4L94.5 825.8L95 826.1L95.5 826.5L96 826.8L96 826.8Z" fill="#b6b6b6" clip-path="url(#c7)"/>
<path d="M49.6 826.8L49.6 826.8L50.1 826.1L50.6 825.3L51.1 824.5L51.6 823.8L52.1 823L52.6 822.2L53.1 821.4L53.6 820.8L54.1 820.1L54.6 818.8L55.1 818L55.6 817.7L56.1 816.9L56.6 816.3L57.1 815.5L57.6 814.6L58.1 813.9L58.6 812.7L59.1 812L59.6 811.3L60.1 810.5L60.6 809.1L61.1 808.3L61.6 808.4L62.1 807.9L62.6 806.9L63.1 806.1L63.6 804.9L64.1 803.6L64.6 802.5L65.1 803L65.6 802.2L66.1 800.9L66.6 799.9L67.1 799.6L67.6 798.7L68.1 796.3L68.6 795.1L69.1 795.8L69.6 794.9L70.1 792.5L70.6 791.7L71.1 791.7L71.6 791.1L72.1 791.7L72.6 791.3L73.1 789L73.6 788.2L74.1 788.6L74.6 787.1L75.1 785.1L75.6 784.1L76.1 781.4L76.6 780.6L77.1 779.7L77.6 778.5L78.1 781.8L78.6 780.7L79.1 776.6L79.6 775.4L80.1 774.7L80.6 772.8L81.1 770L81.6 768.8L82.1 770.1L82.6 769.6L83.1 766.3L83.6 764.6L84.1 766L84.6 764.1L85.1 759.7L85.6 758.7L86.1 760.6L86.6 759.3L87.1 755.6L87.6 753.8L88.1 753.2L88.6 751.8L89.1 746.3L89.6 744.6L90.1 742.6L90.6 741.6L91.1 746.9L91.6 746.6L92.1 739.8L92.6 737.6L93.1 736.8L93.6 733.2L94.1 730.9L94.6 728.9L95.1 729.8L95.6 730.1L96.1 733.6L96.6 734.1L97.1 730.3L97.6 729L98.1 726.2L98.6 725L99.1 720.4L99.6 718.4L100.1 721.9L100.6 719.4L101.1 718.7L101.6 717.6L102.1 713.9L102.6 713.2L103.1 712.8L103.6 711.8L104.1 711.2L104.6 708L105.1 701.6L105.6 698.5L106.1 701.1L106.6 702.7L107.1 698.7L107.6 703.3L108.1 706.9L108.6 711.3L109.1 724.1L109.6 727.2L110.1 726.3L110.6 727.9L111.1 730.6L111.6 734.3L112.1 734.3L112.6 738.5L113.1 746.4L113.6 749L114.1 751.6L114.6 752.4L115.1 756.1L115.6 760.2L116.1 763.9L116.6 768.4L117.1 772.5L117.6 779.6L118.1 782.8L118.6 782.2L119.1 785.6L119.6 790.5L120.1 794L120.6 797.5L121.1 800.1L121.6 802.1L122.1 804.4L122.6 805.9L123.1 808.3L123.6 811.1L124.1 813.1L124.6 814.9L125.1 816.3L125.6 817.1L126.1 818.1L126.6 818.8L127.1 819.7L127.6 821L128.1 821.7L128.6 822.2L129.1 822.8L129.6 823.1L130.1 823.6L130.6 824.2L131.1 824.6L131.6 825.1L132.1 825.4L132.6 825.7L133.1 826L133.6 826.3L134.1 826.5L134.6 826.7L134.6 826.8Z" fill="#818181" clip-path="url(#c7)"/>
<path d="M23.2 825.8L44 825.8L44.5 825.8L45 825.8L45.5 825.8L46 825.8L46.5 825.7L47 825.7L47.5 825.7L48 825.7L48.5 825.6L49 825.6L49.5 825.6L50 825.5L50.5 825.4L51 825.4L51.5 825.4L52 825.3L52.5 825.3L53 825.2L53.5 825.2L54 825.1L54.5 825L55 824.8L55.5 824.7L56 824.4L56.5 824.2L57 824.1L57.5 823.9L58 823.8L58.5 823.6L59 823.4L59.5 823.1L60 822.9L60.5 822.7L61 822.3L61.5 822L62 821.8L62.5 821.5L63 821.6L63.5 821.3L64 820.6L64.5 820.3L65 819.8L65.5 819.4L66 819.2L66.5 818.9L67 818.9L67.5 818.5L68 817.7L68.5 817.2L69 817.1L69.5 816.5L70 816.1L70.5 815.5L71 814.1L71.5 813.3L72 813.5L72.5 812.7L73 811.6L73.5 810.7L74 809.3L74.5 808.2L75 806.9L75.5 805.8L76 804.2L76.5 803.3L77 802.2L77.5 800.6L78 798.3L78.5 796.1L79 794.5L79.5 792.9L80 791.3L80.5 790L81 790.9L81.5 789.8L82 787.5L82.5 786.4L83 786.2L83.5 785.1L84 783.8L84.5 782.7L85 781.2L85.5 780.2L86 776.7L86.5 775.8L87 775.5L87.5 774.5L88 773.5L88.5 773.1L89 775.8L89.5 775.2L90 773.2L90.5 771.8L91 770.8L91.5 770L92 767.9L92.5 767.8L93 766.4L93.5 765.5L94 766.1L94.5 765L95 763L95.5 761.4L96 759L96.5 757.7L97 756.5L97.5 755.4L98 753.4L98.5 751.7L99 755.7L99.5 754.4L100 751.4L100.5 751.2L101 748.5L101.5 748L102 749.1L102.5 749.4L103 747.4L103.5 746.5L104 746.4L104.5 744.6L105 734.3L105.5 731.7L106 732.5L106.5 731.7L107 730.4L107.5 729.8L108 721.4L108.5 723.4L109 724.8L109.5 724.1L110 717.7L110.5 716L111 713.9L111.5 711.2L112 707.5L112.5 710.4L113 709.7L113.5 728.9L114 701.1L114.5 705.8L115 699.2L115.5 708.3L116 698.8L116.5 698.8L117 699.4L117.5 703.4L118 699L118.5 700.2L119 698.5L119.5 700.2L120 709.2L120.5 718.9L121 704.2L121.5 712.8L122 712.9L122.5 718.8L123 728.5L123.5 735.5L124 730.6L124.5 736.1L125 734.4L125.5 736.1L126 739.4L126.5 741.8L127 742.3L127.5 746.5L128 748.9L128.5 753.3L129 761.8L129.5 766.6L130 767.4L130.5 771.6L131 779.1L131.5 783.3L132 786.6L132.5 790.2L133 793.1L133.5 795.9L134 798.2L134.5 800.5L135 803.6L135.5 805.7L136 806.8L136.5 809.1L137 811L137.5 812.8L138 814.8L138.5 816.4L139 817.9L139.5 819.1L140 820.4L140.5 821.3L141 821.8L141.5 822.4L142 822.9L142.5 823.4L143 823.9L143.5 824.3L144 824.7L144.5 825L145 825.2L145.5 825.3L146 825.4L146.5 825.5L147 825.5L147.5 825.6L148 825.7L148.5 825.7L149 825.8L149.5 825.8L150 825.8L159.8 825.8" fill="none" stroke="#000" stroke-width="3.0" stroke-linejoin="round" stroke-linecap="butt" clip-path="url(#c7)"/>
<rect x="22.7" y="689" width="137.6" height="137.8" fill="none" stroke="#111" stroke-width="1.5"/>
<path d="M19.3 826.8h3.4M21 821.5h1.7M21 816.3h1.7M21 811h1.7M21 805.8h1.7M19.3 800.5h3.4M21 795.2h1.7M21 790h1.7M21 784.7h1.7M21 779.5h1.7M19.3 774.2h3.4M21 768.9h1.7M21 763.7h1.7M21 758.4h1.7M21 753.2h1.7M19.3 747.9h3.4M21 742.6h1.7M21 737.4h1.7M21 732.1h1.7M21 726.9h1.7M19.3 721.6h3.4M21 716.3h1.7M21 711.1h1.7M21 705.8h1.7M21 700.6h1.7M19.3 695.3h3.4M26.8 826.8v2.3M32.3 826.8v2.3M37.1 826.8v3.3M41.3 826.8v2.3M44.7 826.8v2.3M47.5 826.8v2.3M49.8 826.8v2.3M51.6 826.8v2.3M53.2 826.8v2.3M55.2 826.8v3.6M60.5 826.8v2.5M64.2 826.8v2.5M67.1 826.8v2.5M69.5 826.8v2.5M71.5 826.8v2.5M73.2 826.8v2.5M76.1 826.8v2.5M78.5 826.8v2.5M80.5 826.8v2.5M82.3 826.8v2.5M83.8 826.8v2.5M85.2 826.8v3.6M90.5 826.8v2.5M94.2 826.8v2.5M97.1 826.8v2.5M99.5 826.8v2.5M101.5 826.8v2.5M103.2 826.8v2.5M106.1 826.8v2.5M108.5 826.8v2.5M110.5 826.8v2.5M112.3 826.8v2.5M113.8 826.8v2.5M115.2 826.8v3.6M120.4 826.8v2.5M124.2 826.8v2.5M127.1 826.8v2.5M129.5 826.8v2.5M131.5 826.8v2.5M133.2 826.8v2.5M136.1 826.8v2.5M138.5 826.8v2.5M140.5 826.8v2.5M142.3 826.8v2.5M143.8 826.8v2.5M145.2 826.8v3.6M150.4 826.8v2.5M154.2 826.8v2.5M157.1 826.8v2.5M159.5 826.8v2.5" stroke="#111" stroke-width="1.3" fill="none"/>
<clipPath id="c8"><rect x="178.7" y="688.4" width="137.9" height="139.6"/></clipPath>
<path d="M192 826.8L192 826.8L192.5 826.7L193 826.5L193.5 826.2L194 825.8L194.5 825.4L195 825L195.5 824.5L196 824L196.5 823.4L197 822.6L197.5 822L198 821.5L198.5 820.8L199 820L199.5 819.3L200 818.6L200.5 817.6L201 816L201.5 814.7L202 813.4L202.5 811.9L203 810.2L203.5 808.5L204 807.9L204.5 806.2L205 803.1L205.5 800.5L206 797.4L206.5 794.1L207 791.3L207.5 787.8L208 782.7L208.5 778.5L209 774L209.5 768.8L210 768.2L210.5 763.7L211 757.2L211.5 753.4L212 749.8L212.5 744.8L213 740.3L213.5 735.3L214 729.3L214.5 724.6L215 719L215.5 714.5L216 714.6L216.5 710.6L217 703.4L217.5 701.4L218 701.7L218.5 700.6L219 703.7L219.5 704.6L220 698.6L220.5 702.1L221 706L221.5 710.4L222 717.5L222.5 722.5L223 730.6L223.5 735.2L224 734.9L224.5 739.3L225 746.4L225.5 750.4L226 753.3L226.5 757.1L227 762.5L227.5 766.1L228 765.8L228.5 768.9L229 773L229.5 775.4L230 776.9L230.5 778.2L231 779.9L231.5 781L232 782.9L232.5 784.8L233 785.3L233.5 786.8L234 791L234.5 791.9L235 791.4L235.5 792.6L236 794.8L236.5 796.2L237 797.6L237.5 798.9L238 799.6L238.5 801L239 802.4L239.5 803.9L240 805.2L240.5 806.7L241 808.6L241.5 810L242 810.8L242.5 812.1L243 813.3L243.5 814.6L244 815.9L244.5 817.1L245 818.3L245.5 819.1L246 820.1L246.5 820.8L247 821.7L247.5 822.4L248 823.1L248.5 823.6L249 824.1L249.5 824.7L250 825.3L250.5 825.7L251 826.1L251.5 826.5L252 826.8L252 826.8Z" fill="#b6b6b6" clip-path="url(#c8)"/>
<path d="M209.7 826.8L209.7 826.8L210.2 826.3L210.7 825.8L211.2 825.2L211.7 824.7L212.2 824.1L212.7 823.4L213.2 822.7L213.7 821.9L214.2 821.1L214.7 819.9L215.2 819L215.7 818.5L216.2 817.7L216.7 817L217.2 816.1L217.7 814.9L218.2 813.8L218.7 812.7L219.2 811.3L219.7 809.6L220.2 807.8L220.7 806.1L221.2 804.8L221.7 802.7L222.2 801.4L222.7 800.1L223.2 798.8L223.7 799.2L224.2 798L224.7 795.5L225.2 794.2L225.7 792.3L226.2 790.9L226.7 789.4L227.2 788.3L227.7 787.9L228.2 787.2L228.7 786.7L229.2 785.8L229.7 785.7L230.2 785.1L230.7 782.4L231.2 781.8L231.7 783.2L232.2 782.2L232.7 782.1L233.2 781.1L233.7 777L234.2 775.8L234.7 775.8L235.2 774.1L235.7 772.7L236.2 770.9L236.7 771.8L237.2 770.8L237.7 770.4L238.2 769.6L238.7 766.7L239.2 765.6L239.7 766.3L240.2 766.3L240.7 767.8L241.2 767.7L241.7 765L242.2 763.8L242.7 759.6L243.2 757.4L243.7 757.1L244.2 755.2L244.7 752.5L245.2 750.9L245.7 749.9L246.2 748.8L246.7 748.1L247.2 747L247.7 743.9L248.2 742.5L248.7 743L249.2 740L249.7 738.1L250.2 735.2L250.7 736L251.2 735.8L251.7 728L252.2 726.9L252.7 731.2L253.2 729.6L253.7 727.8L254.2 726.1L254.7 720.1L255.2 718.9L255.7 716.7L256.2 716L256.7 721L257.2 719.3L257.7 713.3L258.2 710.8L258.7 715.1L259.2 713.4L259.7 700L260.2 697.7L260.7 696.8L261.2 695L261.7 693.7L262.2 692.9L262.7 695.8L263.2 699.3L263.7 710.4L264.2 713.1L264.7 705.2L265.2 706.4L265.7 713.1L266.2 714.7L266.7 712.2L267.2 715.6L267.7 725.6L268.2 729.9L268.7 735.6L269.2 738.7L269.7 737L270.2 739.1L270.7 741.7L271.2 744L271.7 750.5L272.2 753.4L272.7 752.1L273.2 755.5L273.7 762L274.2 765.3L274.7 766L275.2 769L275.7 772.5L276.2 776.1L276.7 780.5L277.2 785L277.7 787.3L278.2 791.1L278.7 795.8L279.2 798.8L279.7 802L280.2 804.6L280.7 806.4L281.2 808.5L281.7 810.5L282.2 812.3L282.7 813.4L283.2 815L283.7 817L284.2 818.2L284.7 819.3L285.2 820.5L285.7 821.8L286.2 822.6L286.7 822.9L287.2 823.5L287.7 824L288.2 824.5L288.7 825L289.2 825.4L289.7 825.7L290.2 826L290.7 826.3L291.2 826.5L291.7 826.7L291.7 826.8Z" fill="#818181" clip-path="url(#c8)"/>
<path d="M179.2 825.8L198 825.8L198.5 825.8L199 825.8L199.5 825.8L200 825.8L200.5 825.7L201 825.7L201.5 825.7L202 825.7L202.5 825.6L203 825.6L203.5 825.5L204 825.5L204.5 825.4L205 825.4L205.5 825.3L206 825.2L206.5 825.1L207 824.9L207.5 824.6L208 824.3L208.5 824L209 823.4L209.5 822.9L210 822.4L210.5 821.9L211 821.5L211.5 821L212 820.6L212.5 820.1L213 819.3L213.5 818.6L214 817.3L214.5 816.3L215 815.5L215.5 814.3L216 813.6L216.5 812.3L217 810.1L217.5 808.8L218 807.7L218.5 806.3L219 805.6L219.5 804L220 800.8L220.5 798.9L221 798.6L221.5 797.1L222 795.3L222.5 792.9L223 789.8L223.5 786.7L224 783.8L224.5 781.3L225 780L225.5 777.2L226 772.5L226.5 769.1L227 767.3L227.5 764.9L228 760.6L228.5 758.5L229 756.1L229.5 754.9L230 755.8L230.5 754.6L231 753.7L231.5 753.3L232 754.4L232.5 754.5L233 752L233.5 751.1L234 751L234.5 750.2L235 750.5L235.5 749L236 746.2L236.5 744.7L237 737.5L237.5 735.7L238 733.1L238.5 733.1L239 729.8L239.5 728.1L240 723.6L240.5 721.8L241 723L241.5 721.8L242 713L242.5 714.9L243 713.1L243.5 713.4L244 709.5L244.5 712.3L245 716.3L245.5 714.7L246 711.4L246.5 712.7L247 707.3L247.5 709.4L248 708.5L248.5 709L249 701.8L249.5 708.3L250 705.1L250.5 712.9L251 700.1L251.5 702.6L252 698.3L252.5 699.9L253 695.5L253.5 697.7L254 706.8L254.5 715.1L255 710L255.5 719.8L256 718.7L256.5 723.5L257 714.4L257.5 720.9L258 720.9L258.5 724.1L259 728.5L259.5 732.5L260 733.9L260.5 737L261 735.3L261.5 739.1L262 742.3L262.5 744.4L263 745.1L263.5 749.3L264 751.8L264.5 754.7L265 758.1L265.5 760.4L266 759.5L266.5 762.5L267 769.4L267.5 772.9L268 777.3L268.5 780.9L269 783.8L269.5 787.1L270 789.1L270.5 792.3L271 795.3L271.5 798.5L272 803.3L272.5 805.7L273 806.8L273.5 808.7L274 810L274.5 811.6L275 813L275.5 814.5L276 815.9L276.5 817.1L277 818.4L277.5 819.3L278 820.5L278.5 821.3L279 821.8L279.5 822.5L280 823.2L280.5 823.6L281 824L281.5 824.3L282 824.5L282.5 824.8L283 825L283.5 825.1L284 825.3L284.5 825.4L285 825.5L285.5 825.6L286 825.6L286.5 825.6L287 825.7L287.5 825.7L288 825.7L288.5 825.8L289 825.8L289.5 825.8L290 825.8L316.1 825.8" fill="none" stroke="#000" stroke-width="3.0" stroke-linejoin="round" stroke-linecap="butt" clip-path="url(#c8)"/>
<rect x="178.7" y="689" width="137.9" height="137.8" fill="none" stroke="#111" stroke-width="1.5"/>
<path d="M175.3 826.8h3.4M177 821.5h1.7M177 816.3h1.7M177 811h1.7M177 805.8h1.7M175.3 800.5h3.4M177 795.2h1.7M177 790h1.7M177 784.7h1.7M177 779.5h1.7M175.3 774.2h3.4M177 768.9h1.7M177 763.7h1.7M177 758.4h1.7M177 753.2h1.7M175.3 747.9h3.4M177 742.6h1.7M177 737.4h1.7M177 732.1h1.7M177 726.9h1.7M175.3 721.6h3.4M177 716.3h1.7M177 711.1h1.7M177 705.8h1.7M177 700.6h1.7M175.3 695.3h3.4M182.8 826.8v2.3M188.4 826.8v2.3M193.2 826.8v3.3M197.3 826.8v2.3M200.8 826.8v2.3M203.5 826.8v2.3M205.9 826.8v2.3M207.7 826.8v2.3M209.3 826.8v2.3M211.2 826.8v3.6M216.5 826.8v2.5M220.3 826.8v2.5M223.2 826.8v2.5M225.6 826.8v2.5M227.6 826.8v2.5M229.3 826.8v2.5M232.3 826.8v2.5M234.6 826.8v2.5M236.6 826.8v2.5M238.4 826.8v2.5M239.9 826.8v2.5M241.3 826.8v3.6M246.6 826.8v2.5M250.4 826.8v2.5M253.3 826.8v2.5M255.6 826.8v2.5M257.7 826.8v2.5M259.4 826.8v2.5M262.3 826.8v2.5M264.7 826.8v2.5M266.7 826.8v2.5M268.5 826.8v2.5M270 826.8v2.5M271.4 826.8v3.6M276.7 826.8v2.5M280.4 826.8v2.5M283.3 826.8v2.5M285.7 826.8v2.5M287.7 826.8v2.5M289.5 826.8v2.5M292.4 826.8v2.5M294.8 826.8v2.5M296.8 826.8v2.5M298.5 826.8v2.5M300.1 826.8v2.5M301.4 826.8v3.6M306.7 826.8v2.5M310.5 826.8v2.5M313.4 826.8v2.5M315.8 826.8v2.5" stroke="#111" stroke-width="1.3" fill="none"/>
<clipPath id="c9"><rect x="332" y="688.4" width="137.3" height="139.6"/></clipPath>
<path d="M346 826.8L346 826.8L346.5 826.7L347 826.4L347.5 826L348 825.4L348.5 824.8L349 824.2L349.5 823.4L350 822.7L350.5 821.9L351 821.2L351.5 820.3L352 818.8L352.5 817.8L353 816.5L353.5 815.3L354 814.6L354.5 813.2L355 811.6L355.5 810.1L356 807.4L356.5 805.3L357 803.7L357.5 801.3L358 800.6L358.5 798.1L359 795.3L359.5 792.5L360 788.1L360.5 784.8L361 780.6L361.5 776.6L362 772.5L362.5 767.3L363 760.4L363.5 754.4L364 746.7L364.5 741.6L365 740.4L365.5 736L366 730.3L366.5 726.2L367 724.3L367.5 720.5L368 722.8L368.5 719.7L369 709.5L369.5 706.1L370 707.1L370.5 704.1L371 694.3L371.5 693.2L372 703.2L372.5 705.8L373 703.6L373.5 706.7L374 711.6L374.5 715.7L375 721.3L375.5 726.9L376 732L376.5 736.7L377 736L377.5 740.7L378 748.4L378.5 753L379 755.2L379.5 759.5L380 766.4L380.5 769.6L381 770.1L381.5 771.9L382 773.7L382.5 775.2L383 776.3L383.5 778.1L384 781.2L384.5 783.1L385 784.1L385.5 785.7L386 788.7L386.5 789.8L387 790.6L387.5 792.2L388 792.7L388.5 794.2L389 796.9L389.5 798.3L390 800L390.5 801.6L391 803.1L391.5 804.7L392 805L392.5 806.4L393 808.1L393.5 809.4L394 810.8L394.5 812.4L395 814L395.5 815.3L396 816.3L396.5 817.2L397 818.3L397.5 819.1L398 819.9L398.5 820.7L399 821.3L399.5 822.1L400 822.8L400.5 823.4L401 824L401.5 824.6L402 825.1L402.5 825.6L403 826.1L403.5 826.5L404 826.8L404 826.8Z" fill="#b6b6b6" clip-path="url(#c9)"/>
<path d="M359.6 826.8L359.6 826.8L360.1 826.2L360.6 825.5L361.1 824.9L361.6 824.4L362.1 823.7L362.6 822.9L363.1 822.2L363.6 821.1L364.1 820.3L364.6 819.7L365.1 818.8L365.6 818.6L366.1 817.8L366.6 815.9L367.1 815L367.6 814.7L368.1 813.8L368.6 812.4L369.1 811.5L369.6 810.3L370.1 809.3L370.6 809L371.1 807.8L371.6 806.7L372.1 805.6L372.6 804.6L373.1 803.5L373.6 801.5L374.1 800.4L374.6 800.6L375.1 799.8L375.6 798.1L376.1 797.4L376.6 797.1L377.1 795.7L377.6 793.1L378.1 791.9L378.6 792.5L379.1 792L379.6 793.2L380.1 792L380.6 789.1L381.1 788.4L381.6 787.4L382.1 787.7L382.6 786.7L383.1 786.2L383.6 786.8L384.1 785.3L384.6 785.2L385.1 783.6L385.6 780.7L386.1 780.2L386.6 780.9L387.1 779.5L387.6 779.3L388.1 778.1L388.6 776.2L389.1 774.3L389.6 768.7L390.1 767.5L390.6 768.8L391.1 767.1L391.6 764.2L392.1 762.7L392.6 761.2L393.1 761.2L393.6 765.1L394.1 764.7L394.6 759.6L395.1 758.4L395.6 756.7L396.1 754.8L396.6 752.5L397.1 749.8L397.6 749.7L398.1 748.5L398.6 747.3L399.1 746.8L399.6 745.8L400.1 745.2L400.6 740.1L401.1 737.7L401.6 735.1L402.1 733.8L402.6 739.2L403.1 738L403.6 728.6L404.1 729.2L404.6 734.3L405.1 733.7L405.6 727.4L406.1 725L406.6 725.1L407.1 723.6L407.6 719.3L408.1 717.8L408.6 721.6L409.1 720.6L409.6 718.3L410.1 718.3L410.6 720.1L411.1 719.2L411.6 713.9L412.1 713.5L412.6 717.3L413.1 717L413.6 714.5L414.1 714L414.6 715.3L415.1 715.8L415.6 712L416.1 711.7L416.6 717.8L417.1 717.8L417.6 721.3L418.1 722.8L418.6 721.4L419.1 722.7L419.6 721.6L420.1 722.2L420.6 715.9L421.1 715.5L421.6 719.9L422.1 722.7L422.6 728.6L423.1 734.1L423.6 740.8L424.1 745L424.6 748.2L425.1 752.6L425.6 760.7L426.1 763.8L426.6 762L427.1 765.8L427.6 769L428.1 772.9L428.6 779.1L429.1 782.3L429.6 786.6L430.1 790.1L430.6 794L431.1 797.4L431.6 799L432.1 801.8L432.6 805.3L433.1 807.5L433.6 808.3L434.1 810.4L434.6 813.1L435.1 814.7L435.6 816.6L436.1 817.9L436.6 818.9L437.1 819.9L437.6 820.3L438.1 821.1L438.6 821.7L439.1 822.4L439.6 823.2L440.1 823.7L440.6 824.2L441.1 824.6L441.6 825L442.1 825.3L442.6 825.6L443.1 825.9L443.6 826.1L444.1 826.3L444.6 826.5L445.1 826.6L445.6 826.7L445.6 826.8Z" fill="#818181" clip-path="url(#c9)"/>
<path d="M332.5 825.8L354 825.8L354.5 825.8L355 825.8L355.5 825.8L356 825.8L356.5 825.7L357 825.7L357.5 825.7L358 825.7L358.5 825.6L359 825.6L359.5 825.6L360 825.5L360.5 825.5L361 825.4L361.5 825.4L362 825.3L362.5 825.3L363 825.2L363.5 825.1L364 825L364.5 824.9L365 824.7L365.5 824.6L366 824.4L366.5 824.2L367 824L367.5 823.7L368 823.5L368.5 823.2L369 822.7L369.5 822.4L370 822.2L370.5 822L371 821.8L371.5 821.5L372 821.4L372.5 821L373 820.5L373.5 820.1L374 820L374.5 819.7L375 818.6L375.5 818.1L376 817.8L376.5 817.2L377 816.3L377.5 815.6L378 815L378.5 814.1L379 813.8L379.5 812.7L380 810.9L380.5 809.8L381 808.2L381.5 806.5L382 805L382.5 803.2L383 801.1L383.5 799.2L384 796.3L384.5 794.3L385 793.1L385.5 791.6L386 792.7L386.5 790.9L387 787.2L387.5 784.6L388 781.4L388.5 779.3L389 779.2L389.5 777.5L390 774.4L390.5 772.8L391 770.8L391.5 769.4L392 764.8L392.5 763.1L393 763.3L393.5 761.9L394 763.2L394.5 762.2L395 760.2L395.5 758.9L396 756.1L396.5 754.6L397 753.9L397.5 752.1L398 749.7L398.5 749.1L399 748.2L399.5 747.5L400 742.7L400.5 741.7L401 738.4L401.5 736.4L402 734.9L402.5 733.9L403 726.5L403.5 724.9L404 728L404.5 730.1L405 725.5L405.5 726.2L406 718.1L406.5 718.7L407 717L407.5 718.1L408 711.2L408.5 719.2L409 710.6L409.5 713.3L410 711.7L410.5 715.8L411 706L411.5 709.4L412 709.9L412.5 707.5L413 698.1L413.5 699.6L414 697.5L414.5 717.3L415 697.4L415.5 694.9L416 691L416.5 708.9L417 695.7L417.5 705.2L418 696.6L418.5 706.3L419 700.1L419.5 701.4L420 706.7L420.5 718.4L421 713.8L421.5 720.4L422 714.7L422.5 721.1L423 725.6L423.5 726.3L424 720.8L424.5 723.6L425 728.3L425.5 734.4L426 739.7L426.5 744.2L427 744.9L427.5 747.3L428 749.5L428.5 752.3L429 758.8L429.5 762.1L430 761.4L430.5 764.8L431 769.5L431.5 773.1L432 776.3L432.5 778.7L433 781.1L433.5 783.2L434 783.5L434.5 785.5L435 789.1L435.5 791.4L436 795.7L436.5 797.9L437 799.2L437.5 801.1L438 802.5L438.5 804L439 806.2L439.5 807.7L440 808.7L440.5 810.4L441 811.8L441.5 812.9L442 814.6L442.5 815.7L443 816.5L443.5 817.7L444 818.2L444.5 819.1L445 820.2L445.5 820.8L446 821.4L446.5 821.9L447 822.5L447.5 823L448 823.5L448.5 823.9L449 824.3L449.5 824.6L450 824.8L450.5 825L451 825.1L451.5 825.2L452 825.3L452.5 825.4L453 825.5L453.5 825.6L454 825.6L454.5 825.7L455 825.7L455.5 825.8L456 825.8L456.5 825.8L457 825.8L468.8 825.8" fill="none" stroke="#000" stroke-width="3.0" stroke-linejoin="round" stroke-linecap="butt" clip-path="url(#c9)"/>
<rect x="332" y="689" width="137.3" height="137.8" fill="none" stroke="#111" stroke-width="1.5"/>
<path d="M328.6 826.8h3.4M330.3 821.5h1.7M330.3 816.3h1.7M330.3 811h1.7M330.3 805.8h1.7M328.6 800.5h3.4M330.3 795.2h1.7M330.3 790h1.7M330.3 784.7h1.7M330.3 779.5h1.7M328.6 774.2h3.4M330.3 768.9h1.7M330.3 763.7h1.7M330.3 758.4h1.7M330.3 753.2h1.7M328.6 747.9h3.4M330.3 742.6h1.7M330.3 737.4h1.7M330.3 732.1h1.7M330.3 726.9h1.7M328.6 721.6h3.4M330.3 716.3h1.7M330.3 711.1h1.7M330.3 705.8h1.7M330.3 700.6h1.7M328.6 695.3h3.4M336.1 826.8v2.3M341.6 826.8v2.3M346.4 826.8v3.3M350.5 826.8v2.3M354 826.8v2.3M356.7 826.8v2.3M359 826.8v2.3M360.8 826.8v2.3M362.5 826.8v2.3M364.4 826.8v3.6M369.7 826.8v2.5M373.4 826.8v2.5M376.3 826.8v2.5M378.7 826.8v2.5M380.7 826.8v2.5M382.4 826.8v2.5M385.3 826.8v2.5M387.7 826.8v2.5M389.7 826.8v2.5M391.4 826.8v2.5M393 826.8v2.5M394.3 826.8v3.6M399.6 826.8v2.5M403.3 826.8v2.5M406.2 826.8v2.5M408.6 826.8v2.5M410.6 826.8v2.5M412.4 826.8v2.5M415.3 826.8v2.5M417.6 826.8v2.5M419.6 826.8v2.5M421.4 826.8v2.5M422.9 826.8v2.5M424.3 826.8v3.6M429.5 826.8v2.5M433.3 826.8v2.5M436.2 826.8v2.5M438.5 826.8v2.5M440.6 826.8v2.5M442.3 826.8v2.5M445.2 826.8v2.5M447.6 826.8v2.5M449.6 826.8v2.5M451.3 826.8v2.5M452.8 826.8v2.5M454.2 826.8v3.6M459.5 826.8v2.5M463.2 826.8v2.5M466.1 826.8v2.5M468.5 826.8v2.5" stroke="#111" stroke-width="1.3" fill="none"/>
<text x="9.8" y="761" font-size="14.3" font-weight="normal" text-anchor="middle" fill="#000" textLength="27.2" lengthAdjust="spacingAndGlyphs" stroke="#000" stroke-width="0.7" transform="rotate(-90 9.8 761)">RCN</text>
<path d="M23 845.5H229.5" stroke="#000" stroke-width="1.3" fill="none"/>
<path d="M276.2 845.5H462" stroke="#000" stroke-width="1.3" fill="none"/>
<text x="240" y="849.5" font-size="12.4" font-weight="bold" text-anchor="start" fill="#000" textLength="22.5" lengthAdjust="spacingAndGlyphs">GrB</text>
<path d="M472.3 845.5L456.3 840.9L460.1 845.5L456.3 850.1Z" fill="#000"/>
<text x="2.1" y="900.8" font-size="23.5" font-weight="bold" text-anchor="start" fill="#000" stroke="#000" stroke-width="0.4">E</text>
<rect x="53.3" y="882.5" width="11.8" height="11.4" fill="#b6b6b6"/>
<text x="71.2" y="892" font-size="12.4" font-weight="bold" text-anchor="start" fill="#000" textLength="84.8" lengthAdjust="spacingAndGlyphs">Isotype control</text>
<rect x="53.3" y="900" width="11.8" height="11.4" fill="#818181"/>
<text x="71.2" y="908.8" font-size="12.4" font-weight="bold" text-anchor="start" fill="#000" textLength="45.7" lengthAdjust="spacingAndGlyphs">Medium</text>
<path d="M53.8 921.3H64.5" stroke="#000" stroke-width="3.2"/>
<text x="71.2" y="925" font-size="12.4" font-weight="bold" text-anchor="start" fill="#000" textLength="28" lengthAdjust="spacingAndGlyphs">IL-21</text>
<path d="M213.8 921.3H225" stroke="#000" stroke-width="3.2"/>
<text x="230.5" y="925" font-size="12.4" font-weight="bold" text-anchor="start" fill="#000" textLength="30.8" lengthAdjust="spacingAndGlyphs">R848</text>
<path d="M359.3 921.3H370" stroke="#000" stroke-width="3.2"/>
<text x="375.7" y="925" font-size="12.4" font-weight="bold" text-anchor="start" fill="#000" textLength="74.7" lengthAdjust="spacingAndGlyphs">R848 + IL-21</text>
<clipPath id="c10"><rect x="21.4" y="930.6" width="140.6" height="135"/></clipPath>
<path d="M46 1064.4L46 1064.4L46.5 1064.4L47 1064.3L47.5 1064.1L48 1063.9L48.5 1063.7L49 1063.4L49.5 1063.1L50 1062.7L50.5 1062.3L51 1061.8L51.5 1061.3L52 1060.7L52.5 1060.2L53 1059.6L53.5 1059.1L54 1058.6L54.5 1058L55 1057.3L55.5 1056.6L56 1055.9L56.5 1054.8L57 1053.4L57.5 1052.1L58 1050.7L58.5 1049.3L59 1047.9L59.5 1046.4L60 1044.9L60.5 1043.3L61 1041.8L61.5 1039.7L62 1037.2L62.5 1034.6L63 1032.6L63.5 1030L64 1026.1L64.5 1023.1L65 1021.9L65.5 1018.8L66 1015.6L66.5 1011.8L67 1007.6L67.5 1003.9L68 999.6L68.5 995.9L69 992L69.5 988.1L70 984.8L70.5 980.8L71 975.8L71.5 970.7L72 965.6L72.5 960.2L73 956.3L73.5 952.6L74 946.9L74.5 943.2L75 940.4L75.5 938.4L76 937.8L76.5 939L77 941.9L77.5 944.8L78 948.2L78.5 951.7L79 958.5L79.5 963.9L80 967L80.5 972.6L81 979.2L81.5 986L82 992.8L82.5 1000.7L83 1009.2L83.5 1015.3L84 1019.9L84.5 1026L85 1031.9L85.5 1036.9L86 1041.4L86.5 1044.8L87 1048L87.5 1051.1L88 1053.4L88.5 1055.4L89 1056.8L89.5 1057.9L90 1058.9L90.5 1059.8L91 1060.5L91.5 1061.2L92 1061.8L92.5 1062.4L93 1062.9L93.5 1063.3L94 1063.8L94.5 1064.1L95 1064.4L95 1064.4Z" fill="#b6b6b6" clip-path="url(#c10)"/>
<path d="M88 1064.4L88 1064.4L88.5 1064.2L89 1063.9L89.5 1063.7L90 1063.4L90.5 1063.2L91 1062.9L91.5 1062.6L92 1062.3L92.5 1061.9L93 1061.7L93.5 1061.4L94 1061L94.5 1060.7L95 1060.4L95.5 1060.1L96 1059.7L96.5 1059.4L97 1058.9L97.5 1058.5L98 1058.1L98.5 1057.7L99 1057.3L99.5 1056.9L100 1056.5L100.5 1056.2L101 1055.8L101.5 1055.4L102 1055.2L102.5 1054.7L103 1054.2L103.5 1053.7L104 1053L104.5 1052.6L105 1052.3L105.5 1051.8L106 1051.2L106.5 1050.7L107 1050.3L107.5 1049.7L108 1049L108.5 1048.4L109 1047.7L109.5 1047.1L110 1046.8L110.5 1046.1L111 1045.1L111.5 1044.3L112 1044L112.5 1043.3L113 1042.1L113.5 1041.3L114 1040.8L114.5 1039.9L115 1038.5L115.5 1037.4L116 1036.8L116.5 1035.5L117 1034.4L117.5 1032.8L118 1030.9L118.5 1029.4L119 1027.6L119.5 1026.1L120 1024.6L120.5 1022.9L121 1020.5L121.5 1018.2L122 1015.8L122.5 1013.1L123 1010.5L123.5 1007.4L124 1004.3L124.5 1000.8L125 998.3L125.5 994.9L126 988.6L126.5 984L127 980.4L127.5 975.3L128 970.4L128.5 965.6L129 961.3L129.5 956.6L130 950L130.5 946.4L131 946.8L131.5 944.5L132 943.7L132.5 943.7L133 940.4L133.5 941.3L134 944.6L134.5 946L135 949.7L135.5 950.5L136 951.9L136.5 956L137 960.1L137.5 966.5L138 974.1L138.5 982.2L139 990.1L139.5 998.6L140 1006.9L140.5 1016.9L141 1026.9L141.5 1034.9L142 1041.1L142.5 1046.8L143 1051.6L143.5 1055.1L144 1057.8L144.5 1060.3L145 1062.3L145.5 1063.8L146 1064.4L146 1064.4Z" fill="#818181" clip-path="url(#c10)"/>
<path d="M21.9 1062.9L80 1062.9L80.5 1062.9L81 1062.9L81.5 1062.9L82 1062.9L82.5 1062.9L83 1062.9L83.5 1062.9L84 1062.8L84.5 1062.8L85 1062.8L85.5 1062.8L86 1062.8L86.5 1062.7L87 1062.7L87.5 1062.7L88 1062.6L88.5 1062.5L89 1062.3L89.5 1062.1L90 1061.9L90.5 1061.6L91 1061.4L91.5 1061L92 1060.8L92.5 1060.5L93 1060L93.5 1059.7L94 1059.5L94.5 1059.2L95 1058.9L95.5 1058.5L96 1058.1L96.5 1057.7L97 1057.4L97.5 1057L98 1056.5L98.5 1056.1L99 1055.8L99.5 1055.5L100 1055L100.5 1054.6L101 1054.5L101.5 1054L102 1053.2L102.5 1052.7L103 1051.9L103.5 1051.4L104 1050.7L104.5 1050L105 1049.8L105.5 1049.3L106 1048.9L106.5 1048.6L107 1048.2L107.5 1048L108 1047.5L108.5 1047.3L109 1047.2L109.5 1047L110 1046.9L110.5 1046.5L111 1045.7L111.5 1045L112 1044.4L112.5 1043.6L113 1042.8L113.5 1042L114 1041.2L114.5 1040.3L115 1039.2L115.5 1038L116 1037.2L116.5 1036L117 1035.1L117.5 1034.1L118 1033.4L118.5 1032.3L119 1030.4L119.5 1029.2L120 1028.3L120.5 1026.9L121 1025L121.5 1023.3L122 1022.5L122.5 1020.5L123 1017.3L123.5 1015L124 1013.3L124.5 1011.1L125 1009L125.5 1006.6L126 1003.7L126.5 1000.7L127 998.5L127.5 995L128 988.3L128.5 984L129 982.7L129.5 978.1L130 969L130.5 964L131 962.4L131.5 957.7L132 951L132.5 946.4L133 945.3L133.5 942.7L134 939.4L134.5 938.9L135 939.5L135.5 939.1L136 936.2L136.5 935.6L137 942.1L137.5 943.8L138 940.7L138.5 943.8L139 952L139.5 956.6L140 957.1L140.5 962.8L141 971.7L141.5 980.3L142 989.5L142.5 998.3L143 1006.1L143.5 1012.6L144 1017.8L144.5 1023.1L145 1029.2L145.5 1034.2L146 1039.2L146.5 1044.6L147 1049.6L147.5 1053.1L148 1055.3L148.5 1056.8L149 1058.1L149.5 1059.4L150 1060.5L150.5 1061.5L151 1062.1L151.5 1062.6L152 1062.7L152.5 1062.7L153 1062.8L153.5 1062.8L154 1062.8L154.5 1062.9L155 1062.9L155.5 1062.9L156 1062.9L161.5 1062.9" fill="none" stroke="#000" stroke-width="3.2" stroke-linejoin="round" stroke-linecap="butt" clip-path="url(#c10)"/>
<rect x="21.4" y="931.2" width="140.6" height="133.2" fill="none" stroke="#111" stroke-width="1.5"/>
<path d="M18 1064.4h3.4M19.7 1059.3h1.7M19.7 1054.2h1.7M19.7 1049.1h1.7M19.7 1044.1h1.7M18 1039h3.4M19.7 1033.9h1.7M19.7 1028.8h1.7M19.7 1023.7h1.7M19.7 1018.6h1.7M18 1013.6h3.4M19.7 1008.5h1.7M19.7 1003.4h1.7M19.7 998.3h1.7M19.7 993.2h1.7M18 988.1h3.4M19.7 983.1h1.7M19.7 978h1.7M19.7 972.9h1.7M19.7 967.8h1.7M18 962.7h3.4M19.7 957.6h1.7M19.7 952.6h1.7M19.7 947.5h1.7M19.7 942.4h1.7M18 937.3h3.4M25.6 1064.4v2.3M31.2 1064.4v2.3M36.2 1064.4v3.3M40.4 1064.4v2.3M43.9 1064.4v2.3M46.7 1064.4v2.3M49.1 1064.4v2.3M50.9 1064.4v2.3M52.6 1064.4v2.3M54.6 1064.4v3.6M60 1064.4v2.5M63.8 1064.4v2.5M66.8 1064.4v2.5M69.2 1064.4v2.5M71.3 1064.4v2.5M73 1064.4v2.5M76 1064.4v2.5M78.4 1064.4v2.5M80.5 1064.4v2.5M82.3 1064.4v2.5M83.8 1064.4v2.5M85.2 1064.4v3.6M90.6 1064.4v2.5M94.5 1064.4v2.5M97.4 1064.4v2.5M99.9 1064.4v2.5M101.9 1064.4v2.5M103.7 1064.4v2.5M106.7 1064.4v2.5M109.1 1064.4v2.5M111.1 1064.4v2.5M112.9 1064.4v2.5M114.5 1064.4v2.5M115.9 1064.4v3.6M121.3 1064.4v2.5M125.1 1064.4v2.5M128.1 1064.4v2.5M130.5 1064.4v2.5M132.6 1064.4v2.5M134.3 1064.4v2.5M137.3 1064.4v2.5M139.7 1064.4v2.5M141.8 1064.4v2.5M143.6 1064.4v2.5M145.1 1064.4v2.5M146.5 1064.4v3.6M151.9 1064.4v2.5M155.8 1064.4v2.5M158.7 1064.4v2.5M161.2 1064.4v2.5" stroke="#111" stroke-width="1.3" fill="none"/>
<clipPath id="c11"><rect x="177.4" y="930.6" width="140.6" height="135"/></clipPath>
<path d="M202 1064.4L202 1064.4L202.5 1064.4L203 1064.3L203.5 1064.2L204 1064.1L204.5 1063.9L205 1063.7L205.5 1063.4L206 1063.1L206.5 1062.8L207 1062.5L207.5 1062.1L208 1061.8L208.5 1061.3L209 1060.9L209.5 1060.4L210 1060L210.5 1059.4L211 1059L211.5 1058.4L212 1057.7L212.5 1057.1L213 1056.4L213.5 1055.5L214 1054.1L214.5 1052.8L215 1051.3L215.5 1049.6L216 1047.9L216.5 1046.1L217 1044L217.5 1042.1L218 1040.3L218.5 1038.1L219 1035.1L219.5 1032.4L220 1029.8L220.5 1026.4L221 1023L221.5 1019.3L222 1015.5L222.5 1011.4L223 1007.4L223.5 1003.1L224 998.3L224.5 994.6L225 990.1L225.5 986L226 981.4L226.5 976.8L227 973.9L227.5 969.8L228 964.6L228.5 960.3L229 957.8L229.5 952.8L230 948.2L230.5 945.3L231 944.4L231.5 943.2L232 941.1L232.5 939.7L233 938.3L233.5 939.4L234 943.9L234.5 947.9L235 951.6L235.5 955.9L236 962.4L236.5 969.3L237 974.7L237.5 982.6L238 992.9L238.5 1001.8L239 1009.6L239.5 1016.9L240 1024.6L240.5 1030.8L241 1035.6L241.5 1040.5L242 1045L242.5 1048.6L243 1051.3L243.5 1054L244 1056.4L244.5 1058.3L245 1060.1L245.5 1061.6L246 1062.8L246.5 1063.8L247 1064.4L247 1064.4Z" fill="#b6b6b6" clip-path="url(#c11)"/>
<path d="M236 1064.4L236 1064.4L236.5 1064.3L237 1064.2L237.5 1064.1L238 1064L238.5 1063.9L239 1063.8L239.5 1063.7L240 1063.7L240.5 1063.6L241 1063.5L241.5 1063.4L242 1063.3L242.5 1063.2L243 1063.1L243.5 1063L244 1062.9L244.5 1062.8L245 1062.8L245.5 1062.7L246 1062.6L246.5 1062.5L247 1062.5L247.5 1062.4L248 1062.3L248.5 1062.3L249 1062.2L249.5 1062.1L250 1062.1L250.5 1062L251 1061.9L251.5 1061.8L252 1061.7L252.5 1061.6L253 1061.5L253.5 1061.3L254 1061L254.5 1060.8L255 1060.6L255.5 1060.3L256 1059.9L256.5 1059.5L257 1059.2L257.5 1058.7L258 1058.3L258.5 1057.9L259 1057.6L259.5 1057.2L260 1056.7L260.5 1056.3L261 1055.7L261.5 1055.4L262 1055L262.5 1054.6L263 1054.3L263.5 1053.8L264 1053.2L264.5 1052.7L265 1052L265.5 1051.4L266 1050.8L266.5 1050.1L267 1049.4L267.5 1048.5L268 1047.8L268.5 1047L269 1045.7L269.5 1044.7L270 1043.9L270.5 1042.6L271 1040.5L271.5 1038.8L272 1036.6L272.5 1034.5L273 1033.1L273.5 1030.8L274 1028.2L274.5 1025.6L275 1022L275.5 1018.5L276 1014.7L276.5 1011.9L277 1010.4L277.5 1008.9L278 1007.9L278.5 1007L279 1006.5L279.5 1005.7L280 1003.8L280.5 1002L281 998.1L281.5 992.2L282 987.2L282.5 981.5L283 973.1L283.5 967.1L284 964.3L284.5 959.2L285 951L285.5 945.7L286 943L286.5 940.7L287 940.2L287.5 940.2L288 941.9L288.5 944L289 946.3L289.5 949.3L290 951.8L290.5 957.2L291 963.3L291.5 971.5L292 979.2L292.5 986.6L293 995.8L293.5 1003.1L294 1009.8L294.5 1016.7L295 1024L295.5 1030.9L296 1037L296.5 1042.6L297 1047L297.5 1051.2L298 1054.9L298.5 1058.1L299 1060.2L299.5 1061.5L300 1062.7L300.5 1063.6L301 1064.2L301.5 1064.4L301.5 1064.4Z" fill="#818181" clip-path="url(#c11)"/>
<path d="M177.9 1063L232 1063L232.5 1063L233 1063L233.5 1063L234 1063L234.5 1063L235 1063L235.5 1062.9L236 1062.9L236.5 1062.9L237 1062.9L237.5 1062.9L238 1062.9L238.5 1062.8L239 1062.8L239.5 1062.8L240 1062.7L240.5 1062.6L241 1062.5L241.5 1062.4L242 1062.2L242.5 1062L243 1061.7L243.5 1061.4L244 1061.1L244.5 1060.8L245 1060.6L245.5 1060.3L246 1060L246.5 1059.6L247 1059.2L247.5 1058.8L248 1058.4L248.5 1057.8L249 1057.2L249.5 1056.4L250 1055.7L250.5 1054.8L251 1053.7L251.5 1052.6L252 1051.5L252.5 1049.6L253 1046.9L253.5 1044.4L254 1042.5L254.5 1039.8L255 1036.4L255.5 1033.3L256 1030.2L256.5 1026.9L257 1022.7L257.5 1019.2L258 1017.9L258.5 1014.2L259 1009.3L259.5 1005.2L260 999.4L260.5 995.6L261 993.6L261.5 990.6L262 987.9L262.5 984.6L263 979.1L263.5 975.7L264 972.4L264.5 968.4L265 962.8L265.5 958.8L266 957.3L266.5 953.8L267 949L267.5 946.8L268 950.5L268.5 948.6L269 943.3L269.5 941.3L270 939.6L270.5 938.2L271 937.2L271.5 937.5L272 937.3L272.5 938.9L273 940.9L273.5 942.3L274 945.6L274.5 947.3L275 951.5L275.5 954.6L276 956.2L276.5 960.3L277 964.4L277.5 968.7L278 973.4L278.5 978.8L279 986.3L279.5 991.2L280 994.5L280.5 998.3L281 1001.4L281.5 1004.9L282 1007.8L282.5 1011.3L283 1014.6L283.5 1018.1L284 1021.2L284.5 1024.7L285 1029.2L285.5 1032.3L286 1035.1L286.5 1037.5L287 1039.7L287.5 1041.9L288 1043.9L288.5 1045.8L289 1047.7L289.5 1049.3L290 1050.9L290.5 1052.5L291 1054.1L291.5 1055.5L292 1056.7L292.5 1057.9L293 1058.9L293.5 1059.7L294 1060.2L294.5 1060.7L295 1061.2L295.5 1061.6L296 1061.9L296.5 1062.2L297 1062.4L297.5 1062.6L298 1062.7L298.5 1062.8L299 1062.8L299.5 1062.9L300 1062.9L300.5 1062.9L301 1062.9L301.5 1062.9L302 1063L302.5 1063L303 1063L303.5 1063L304 1063L317.5 1063" fill="none" stroke="#000" stroke-width="3.2" stroke-linejoin="round" stroke-linecap="butt" clip-path="url(#c11)"/>
<rect x="177.4" y="931.2" width="140.6" height="133.2" fill="none" stroke="#111" stroke-width="1.5"/>
<path d="M174 1064.4h3.4M175.7 1059.3h1.7M175.7 1054.2h1.7M175.7 1049.1h1.7M175.7 1044.1h1.7M174 1039h3.4M175.7 1033.9h1.7M175.7 1028.8h1.7M175.7 1023.7h1.7M175.7 1018.6h1.7M174 1013.6h3.4M175.7 1008.5h1.7M175.7 1003.4h1.7M175.7 998.3h1.7M175.7 993.2h1.7M174 988.1h3.4M175.7 983.1h1.7M175.7 978h1.7M175.7 972.9h1.7M175.7 967.8h1.7M174 962.7h3.4M175.7 957.6h1.7M175.7 952.6h1.7M175.7 947.5h1.7M175.7 942.4h1.7M174 937.3h3.4M181.6 1064.4v2.3M187.2 1064.4v2.3M192.2 1064.4v3.3M196.4 1064.4v2.3M199.9 1064.4v2.3M202.7 1064.4v2.3M205.1 1064.4v2.3M206.9 1064.4v2.3M208.6 1064.4v2.3M210.6 1064.4v3.6M216 1064.4v2.5M219.8 1064.4v2.5M222.8 1064.4v2.5M225.2 1064.4v2.5M227.3 1064.4v2.5M229 1064.4v2.5M232 1064.4v2.5M234.4 1064.4v2.5M236.5 1064.4v2.5M238.3 1064.4v2.5M239.8 1064.4v2.5M241.2 1064.4v3.6M246.6 1064.4v2.5M250.5 1064.4v2.5M253.4 1064.4v2.5M255.9 1064.4v2.5M257.9 1064.4v2.5M259.7 1064.4v2.5M262.7 1064.4v2.5M265.1 1064.4v2.5M267.1 1064.4v2.5M268.9 1064.4v2.5M270.5 1064.4v2.5M271.9 1064.4v3.6M277.3 1064.4v2.5M281.1 1064.4v2.5M284.1 1064.4v2.5M286.5 1064.4v2.5M288.6 1064.4v2.5M290.3 1064.4v2.5M293.3 1064.4v2.5M295.7 1064.4v2.5M297.8 1064.4v2.5M299.6 1064.4v2.5M301.1 1064.4v2.5M302.5 1064.4v3.6M307.9 1064.4v2.5M311.8 1064.4v2.5M314.7 1064.4v2.5M317.2 1064.4v2.5" stroke="#111" stroke-width="1.3" fill="none"/>
<clipPath id="c12"><rect x="334.4" y="930.6" width="140.6" height="135"/></clipPath>
<path d="M357 1064.4L357 1064.4L357.5 1064.4L358 1064.4L358.5 1064.3L359 1064.3L359.5 1064.2L360 1064.1L360.5 1064L361 1063.9L361.5 1063.8L362 1063.6L362.5 1063.5L363 1063.3L363.5 1063.1L364 1062.9L364.5 1062.7L365 1062.5L365.5 1062.2L366 1062L366.5 1061.7L367 1061.4L367.5 1061.2L368 1060.8L368.5 1060.3L369 1059.4L369.5 1058.4L370 1057.3L370.5 1056L371 1054.5L371.5 1053L372 1051.5L372.5 1049.8L373 1047.6L373.5 1045.7L374 1043.8L374.5 1041.4L375 1038.9L375.5 1036.3L376 1033.7L376.5 1030.8L377 1027.7L377.5 1024.3L378 1019.9L378.5 1015.4L379 1010.3L379.5 1005.5L380 1001.4L380.5 996.9L381 993.1L381.5 988.6L382 982.4L382.5 977.4L383 974.7L383.5 970.1L384 963.7L384.5 959.6L385 954.2L385.5 949.5L386 946.7L386.5 944L387 941.8L387.5 940.9L388 941.3L388.5 940.4L389 939.1L389.5 939.4L390 942.2L390.5 945.4L391 951L391.5 956L392 960.5L392.5 968.5L393 978.1L393.5 985.5L394 991L394.5 998.4L395 1006.5L395.5 1013.4L396 1020.4L396.5 1027.3L397 1032.9L397.5 1037.7L398 1042.6L398.5 1046.6L399 1050L399.5 1053.2L400 1055.5L400.5 1057.3L401 1058.8L401.5 1060.2L402 1061.4L402.5 1062.2L403 1062.8L403.5 1063.4L404 1063.9L404.5 1064.3L405 1064.4L405 1064.4Z" fill="#b6b6b6" clip-path="url(#c12)"/>
<path d="M395 1064.4L395 1064.4L395.5 1064.4L396 1064.3L396.5 1064.2L397 1064.2L397.5 1064.1L398 1064L398.5 1063.9L399 1063.8L399.5 1063.7L400 1063.6L400.5 1063.5L401 1063.4L401.5 1063.3L402 1063.2L402.5 1063L403 1062.9L403.5 1062.8L404 1062.7L404.5 1062.5L405 1062.3L405.5 1062.2L406 1062L406.5 1061.8L407 1061.6L407.5 1061.4L408 1061.2L408.5 1061L409 1060.9L409.5 1060.7L410 1060.4L410.5 1060.2L411 1059.9L411.5 1059.7L412 1059.5L412.5 1059.2L413 1059L413.5 1058.7L414 1058.5L414.5 1058.2L415 1057.9L415.5 1057.5L416 1057.1L416.5 1056.7L417 1056.5L417.5 1056.1L418 1055.4L418.5 1054.8L419 1054.4L419.5 1053.6L420 1053.1L420.5 1052.2L421 1051L421.5 1050L422 1049.1L422.5 1048.2L423 1047.1L423.5 1046.1L424 1044.8L424.5 1043.6L425 1042.4L425.5 1041L426 1040L426.5 1038.4L427 1036.7L427.5 1034.6L428 1032.6L428.5 1030.1L429 1026.9L429.5 1024.3L430 1021.9L430.5 1019.4L431 1016.5L431.5 1013.9L432 1011.2L432.5 1008.6L433 1006.5L433.5 1003.7L434 1000.3L434.5 996.7L435 991.4L435.5 987.4L436 985.3L436.5 983.1L437 980.8L437.5 980.5L438 979.6L438.5 978.9L439 978.7L439.5 974.9L440 967.2L440.5 961L441 959.5L441.5 955.3L442 950.6L442.5 946.4L443 940.2L443.5 938.2L444 940.3L444.5 939.9L445 937.5L445.5 940.5L446 946.5L446.5 950.6L447 955.8L447.5 962.1L448 968.2L448.5 975.6L449 983.3L449.5 991.2L450 1000.3L450.5 1007L451 1012L451.5 1018.5L452 1025.2L452.5 1030.9L453 1035.9L453.5 1040.6L454 1044.7L454.5 1048.5L455 1051.7L455.5 1054.2L456 1056.5L456.5 1058.6L457 1060.5L457.5 1061.8L458 1062.6L458.5 1063.3L459 1063.9L459.5 1064.3L460 1064.4L460 1064.4Z" fill="#818181" clip-path="url(#c12)"/>
<path d="M334.9 1063L370 1063L370.5 1063L371 1063L371.5 1063L372 1063L372.5 1063L373 1063L373.5 1063L374 1062.9L374.5 1062.9L375 1062.9L375.5 1062.9L376 1062.9L376.5 1062.9L377 1062.9L377.5 1062.8L378 1062.8L378.5 1062.8L379 1062.8L379.5 1062.8L380 1062.7L380.5 1062.7L381 1062.6L381.5 1062.6L382 1062.5L382.5 1062.4L383 1062.4L383.5 1062.3L384 1062.2L384.5 1062.1L385 1062L385.5 1061.9L386 1061.8L386.5 1061.7L387 1061.5L387.5 1061.4L388 1061.3L388.5 1061.2L389 1061L389.5 1060.9L390 1060.7L390.5 1060.5L391 1060.2L391.5 1059.9L392 1059.7L392.5 1059.4L393 1059L393.5 1058.7L394 1058.4L394.5 1058L395 1057.5L395.5 1057L396 1056.5L396.5 1056.1L397 1055.7L397.5 1055.3L398 1055.2L398.5 1054.8L399 1054.3L399.5 1053.8L400 1053.6L400.5 1053.1L401 1052.3L401.5 1051.9L402 1051.2L402.5 1050.7L403 1050.6L403.5 1049.9L404 1048.6L404.5 1047.5L405 1046.2L405.5 1044.9L406 1043.8L406.5 1042.5L407 1040.8L407.5 1039L408 1036.9L408.5 1034.7L409 1033.7L409.5 1031.5L410 1029.7L410.5 1028.1L411 1025.1L411.5 1024L412 1024.2L412.5 1023.3L413 1021.1L413.5 1019.6L414 1017.9L414.5 1015.3L415 1012.4L415.5 1009.3L416 1006.4L416.5 1003.5L417 1001.4L417.5 998.4L418 995.5L418.5 992.3L419 987.9L419.5 984.8L420 984.7L420.5 982.3L421 977.9L421.5 974.6L422 971.1L422.5 967.8L423 963.5L423.5 961.2L424 959.2L424.5 957.7L425 960.9L425.5 959.6L426 953.7L426.5 951.7L427 952.6L427.5 949.9L428 944.5L428.5 941.8L429 940.2L429.5 938.4L430 937.3L430.5 937.2L431 942.7L431.5 947.9L432 947.8L432.5 950.7L433 956.4L433.5 959.1L434 960.4L434.5 961.7L435 959.9L435.5 956.8L436 954.2L436.5 953.3L437 956L437.5 959.9L438 964.1L438.5 967.5L439 970.3L439.5 972.2L440 975.8L440.5 977.3L441 979.4L441.5 981.4L442 980.6L442.5 982.1L443 983.5L443.5 984.3L444 986.5L444.5 988L445 990.7L445.5 992.9L446 993.1L446.5 995.9L447 1000.8L447.5 1003.7L448 1005.4L448.5 1008L449 1009.6L449.5 1011.9L450 1014.5L450.5 1017.1L451 1019.8L451.5 1022.3L452 1025.2L452.5 1027.5L453 1030.2L453.5 1032.4L454 1034.8L454.5 1037.1L455 1039.3L455.5 1041.4L456 1043.4L456.5 1045.5L457 1047.2L457.5 1049.1L458 1050.7L458.5 1052.2L459 1053.5L459.5 1054.8L460 1056.2L460.5 1057.3L461 1058.2L461.5 1059L462 1059.6L462.5 1060.2L463 1060.7L463.5 1061.2L464 1061.6L464.5 1062L465 1062.3L465.5 1062.5L466 1062.6L466.5 1062.7L467 1062.7L467.5 1062.8L468 1062.8L468.5 1062.9L469 1062.9L469.5 1063L470 1063L470.5 1063L471 1063L474.5 1063" fill="none" stroke="#000" stroke-width="3.2" stroke-linejoin="round" stroke-linecap="butt" clip-path="url(#c12)"/>
<rect x="334.4" y="931.2" width="140.6" height="133.2" fill="none" stroke="#262626" stroke-width="1.5"/>
<path d="M331 1064.4h3.4M332.7 1059.3h1.7M332.7 1054.2h1.7M332.7 1049.1h1.7M332.7 1044.1h1.7M331 1039h3.4M332.7 1033.9h1.7M332.7 1028.8h1.7M332.7 1023.7h1.7M332.7 1018.6h1.7M331 1013.6h3.4M332.7 1008.5h1.7M332.7 1003.4h1.7M332.7 998.3h1.7M332.7 993.2h1.7M331 988.1h3.4M332.7 983.1h1.7M332.7 978h1.7M332.7 972.9h1.7M332.7 967.8h1.7M331 962.7h3.4M332.7 957.6h1.7M332.7 952.6h1.7M332.7 947.5h1.7M332.7 942.4h1.7M331 937.3h3.4M338.6 1064.4v2.3M344.2 1064.4v2.3M349.2 1064.4v3.3M353.4 1064.4v2.3M356.9 1064.4v2.3M359.7 1064.4v2.3M362.1 1064.4v2.3M363.9 1064.4v2.3M365.6 1064.4v2.3M367.6 1064.4v3.6M373 1064.4v2.5M376.8 1064.4v2.5M379.8 1064.4v2.5M382.2 1064.4v2.5M384.3 1064.4v2.5M386 1064.4v2.5M389 1064.4v2.5M391.4 1064.4v2.5M393.5 1064.4v2.5M395.3 1064.4v2.5M396.8 1064.4v2.5M398.2 1064.4v3.6M403.6 1064.4v2.5M407.5 1064.4v2.5M410.4 1064.4v2.5M412.9 1064.4v2.5M414.9 1064.4v2.5M416.7 1064.4v2.5M419.7 1064.4v2.5M422.1 1064.4v2.5M424.1 1064.4v2.5M425.9 1064.4v2.5M427.5 1064.4v2.5M428.9 1064.4v3.6M434.3 1064.4v2.5M438.1 1064.4v2.5M441.1 1064.4v2.5M443.5 1064.4v2.5M445.6 1064.4v2.5M447.3 1064.4v2.5M450.3 1064.4v2.5M452.7 1064.4v2.5M454.8 1064.4v2.5M456.6 1064.4v2.5M458.1 1064.4v2.5M459.5 1064.4v3.6M464.9 1064.4v2.5M468.8 1064.4v2.5M471.7 1064.4v2.5M474.2 1064.4v2.5" stroke="#262626" stroke-width="1.3" fill="none"/>
<text x="9.7" y="997.6" font-size="14.3" font-weight="normal" text-anchor="middle" fill="#000" textLength="27.4" lengthAdjust="spacingAndGlyphs" stroke="#000" stroke-width="0.7" transform="rotate(-90 9.7 997.6)">RCN</text>
<path d="M21 1080.7H226.2" stroke="#000" stroke-width="1.3" fill="none"/>
<path d="M267 1080.7H465" stroke="#000" stroke-width="1.3" fill="none"/>
<text x="234.5" y="1084.6" font-size="12.4" font-weight="bold" text-anchor="start" fill="#000" textLength="23" lengthAdjust="spacingAndGlyphs">GrB</text>
<path d="M475.7 1080.7L459.7 1076.1L463.5 1080.7L459.7 1085.3Z" fill="#000"/>
<text x="481.8" y="1006.6" font-size="15.4" font-weight="normal" text-anchor="start" fill="#000" textLength="36.7" lengthAdjust="spacingAndGlyphs" stroke="#000" stroke-width="0.65">day 1</text>
<clipPath id="c13"><rect x="18" y="1105.4" width="138.4" height="133.2"/></clipPath>
<path d="M18.2 1237.4L18.2 1232.5L18.7 1232.4L19.2 1232.3L19.7 1232.2L20.2 1232.1L20.7 1231.9L21.2 1231.5L21.7 1231.2L22.2 1231.1L22.7 1230.7L23.2 1230.2L23.7 1229.6L24.2 1229.1L24.7 1228.5L25.2 1227.7L25.7 1227.4L26.2 1227.2L26.7 1227.2L27.2 1227.7L27.7 1228L28.2 1228.4L28.7 1228.8L29.2 1229.3L29.7 1229.5L30.2 1229.1L30.7 1228.9L31.2 1228.3L31.7 1227.6L32.2 1227L32.7 1226.2L33.2 1225.7L33.7 1225.3L34.2 1225L34.7 1225.2L35.2 1226L35.7 1226.2L36.2 1225.7L36.7 1225.4L37.2 1224.9L37.7 1223.9L38.2 1222.8L38.7 1222.4L39.2 1222.6L39.7 1223.2L40.2 1223.6L40.7 1224.3L41.2 1224.7L41.7 1224.1L42.2 1223.4L42.7 1221.5L43.2 1218.4L43.7 1216.1L44.2 1215.1L44.7 1213.4L45.2 1212.3L45.7 1211.1L46.2 1208.9L46.7 1207.5L47.2 1206.2L47.7 1204.2L48.2 1201.7L48.7 1199.5L49.2 1198.6L49.7 1196.7L50.2 1194.9L50.7 1193.4L51.2 1192.2L51.7 1190.6L52.2 1188.1L52.7 1185.8L53.2 1182.2L53.7 1179.5L54.2 1175.5L54.7 1172L55.2 1172.4L55.7 1168.6L56.2 1161.7L56.7 1160.2L57.2 1162.4L57.7 1161.6L58.2 1156.5L58.7 1154.6L59.2 1154.6L59.7 1152.1L60.2 1150.5L60.7 1145.4L61.2 1139.1L61.7 1134.1L62.2 1131.1L62.7 1129.6L63.2 1127.7L63.7 1125.3L64.2 1121.1L64.7 1117.4L65.2 1113.1L65.7 1112.2L66.2 1111.6L66.7 1113.5L67.2 1119.7L67.7 1122.3L68.2 1125.8L68.7 1129.6L69.2 1134.2L69.7 1138.9L70.2 1144.4L70.7 1148.7L71.2 1151.9L71.7 1158L72.2 1162.6L72.7 1168.2L73.2 1173.2L73.7 1177.3L74.2 1184.3L74.7 1189.2L75.2 1191.9L75.7 1196.8L76.2 1202.4L76.7 1206.4L77.2 1208.9L77.7 1212.5L78.2 1216L78.7 1218.8L79.2 1221.8L79.7 1224.1L80.2 1226.1L80.7 1228L81.2 1229.6L81.7 1230.9L82.2 1231.8L82.7 1232.6L83.2 1233.4L83.7 1234.1L84.2 1234.5L84.7 1235L85.2 1235.4L85.7 1235.8L86.2 1236.1L86.7 1236.4L87.2 1236.7L87.7 1237L88.2 1237.2L88.7 1237.3L88.7 1237.4Z" fill="#b6b6b6" clip-path="url(#c13)"/>
<path d="M80 1237.4L80 1237.4L80.5 1237.4L81 1237.4L81.5 1237.3L82 1237.3L82.5 1237.2L83 1237.1L83.5 1237L84 1236.9L84.5 1236.8L85 1236.7L85.5 1236.5L86 1236.4L86.5 1236.2L87 1236.1L87.5 1235.9L88 1235.7L88.5 1235.4L89 1235.1L89.5 1234.7L90 1234.2L90.5 1233.8L91 1233.3L91.5 1232.7L92 1232.3L92.5 1231.8L93 1230.9L93.5 1230.3L94 1229.7L94.5 1229L95 1228.6L95.5 1227.9L96 1227.2L96.5 1226.5L97 1225.8L97.5 1225L98 1224.2L98.5 1223.3L99 1222.6L99.5 1221.8L100 1221.1L100.5 1220.3L101 1220L101.5 1219.4L102 1217.9L102.5 1217.3L103 1217L103.5 1216.3L104 1215.8L104.5 1215L105 1214.4L105.5 1213.6L106 1212.5L106.5 1211.9L107 1210.7L107.5 1210L108 1208.8L108.5 1207.9L109 1207.3L109.5 1206.6L110 1207L110.5 1206.5L111 1206L111.5 1205.7L112 1205.6L112.5 1205.3L113 1205.1L113.5 1204.7L114 1203.8L114.5 1203.3L115 1203.1L115.5 1202.9L116 1202L116.5 1201.6L117 1201.5L117.5 1200.8L118 1200.1L118.5 1198.7L119 1196.7L119.5 1195.1L120 1193L120.5 1191.7L121 1191L121.5 1189.3L122 1185.8L122.5 1182.6L123 1181.2L123.5 1178L124 1175.3L124.5 1172.3L125 1170.1L125.5 1166.8L126 1159.3L126.5 1154.9L127 1152.6L127.5 1148.7L128 1145.1L128.5 1141.9L129 1137.6L129.5 1134L130 1132.8L130.5 1130.4L131 1126.4L131.5 1123L132 1119.4L132.5 1117.4L133 1118.4L133.5 1119.7L134 1121.9L134.5 1124.5L135 1128.7L135.5 1131.7L136 1133.7L136.5 1139.2L137 1146.9L137.5 1152.8L138 1157.9L138.5 1163.6L139 1167.4L139.5 1174L140 1181.5L140.5 1188L141 1195.2L141.5 1201.5L142 1208.1L142.5 1213.5L143 1218L143.5 1221.7L144 1225.1L144.5 1228.2L145 1231L145.5 1233.1L146 1234.5L146.5 1235.6L147 1236.5L147.5 1237.2L148 1237.4L148 1237.4Z" fill="#818181" clip-path="url(#c13)"/>
<path d="M18.5 1236.3L72 1236.3L72.5 1236.3L73 1236.3L73.5 1236.3L74 1236.3L74.5 1236.3L75 1236.3L75.5 1236.2L76 1236.2L76.5 1236.2L77 1236.2L77.5 1236.2L78 1236.2L78.5 1236.1L79 1236.1L79.5 1236.1L80 1236L80.5 1236L81 1235.9L81.5 1235.8L82 1235.7L82.5 1235.6L83 1235.5L83.5 1235.3L84 1235.2L84.5 1235.1L85 1234.9L85.5 1234.8L86 1234.6L86.5 1234.5L87 1234.4L87.5 1234.2L88 1234L88.5 1233.8L89 1233.5L89.5 1233.3L90 1233.2L90.5 1233L91 1232.6L91.5 1232.4L92 1232L92.5 1231.7L93 1231.6L93.5 1231.3L94 1231L94.5 1230.7L95 1230.4L95.5 1230.1L96 1230L96.5 1229.7L97 1229.1L97.5 1228.7L98 1228.3L98.5 1227.9L99 1227.5L99.5 1227.1L100 1226.9L100.5 1226.5L101 1225.9L101.5 1225.4L102 1225.1L102.5 1224.7L103 1224.3L103.5 1224L104 1223.6L104.5 1223.2L105 1222.7L105.5 1222.3L106 1222.3L106.5 1222L107 1221.7L107.5 1221.3L108 1220.6L108.5 1220.1L109 1219.1L109.5 1218.6L110 1218.3L110.5 1217.6L111 1217.4L111.5 1216.6L112 1215L112.5 1214.4L113 1214.2L113.5 1213.7L114 1212.8L114.5 1212.3L115 1211.8L115.5 1211.3L116 1211.2L116.5 1210.9L117 1210.6L117.5 1210.4L118 1210.4L118.5 1210.2L119 1209.1L119.5 1208.6L120 1208.6L120.5 1208.1L121 1207.3L121.5 1206.7L122 1206.1L122.5 1205.2L123 1204.8L123.5 1204L124 1202.4L124.5 1201L125 1199L125.5 1196.7L126 1194.9L126.5 1192.4L127 1188.6L127.5 1185.9L128 1185L128.5 1182L129 1176.7L129.5 1172.2L130 1166.7L130.5 1160.1L131 1152.1L131.5 1145.7L132 1140.5L132.5 1134.3L133 1128.6L133.5 1123.6L134 1122.8L134.5 1118.7L135 1111.3L135.5 1111.7L136 1113.5L136.5 1115.2L137 1119.4L137.5 1122.1L138 1126.7L138.5 1131.2L139 1133.5L139.5 1138.1L140 1142.4L140.5 1148.4L141 1155.9L141.5 1163.1L142 1173.1L142.5 1181.5L143 1187.9L143.5 1195L144 1202L144.5 1208.6L145 1214.5L145.5 1219.2L146 1223.2L146.5 1226.6L147 1229.3L147.5 1231.5L148 1232.8L148.5 1233.8L149 1234.7L149.5 1235.4L150 1235.8L150.5 1236.1L151 1236.1L151.5 1236.2L152 1236.2L152.5 1236.3L153 1236.3L153.5 1236.3L154 1236.3L155.9 1236.3" fill="none" stroke="#000" stroke-width="3.2" stroke-linejoin="round" stroke-linecap="butt" clip-path="url(#c13)"/>
<rect x="18" y="1106" width="138.4" height="131.4" fill="none" stroke="#111" stroke-width="1.5"/>
<path d="M14.6 1237.4h3.4M16.3 1232.4h1.7M16.3 1227.4h1.7M16.3 1222.4h1.7M16.3 1217.3h1.7M14.6 1212.3h3.4M16.3 1207.3h1.7M16.3 1202.3h1.7M16.3 1197.3h1.7M16.3 1192.3h1.7M14.6 1187.2h3.4M16.3 1182.2h1.7M16.3 1177.2h1.7M16.3 1172.2h1.7M16.3 1167.2h1.7M14.6 1162.2h3.4M16.3 1157.2h1.7M16.3 1152.1h1.7M16.3 1147.1h1.7M16.3 1142.1h1.7M14.6 1137.1h3.4M16.3 1132.1h1.7M16.3 1127.1h1.7M16.3 1122h1.7M16.3 1117h1.7M14.6 1112h3.4M22.2 1237.4v2.3M27.7 1237.4v2.3M32.5 1237.4v3.3M36.7 1237.4v2.3M40.1 1237.4v2.3M42.9 1237.4v2.3M45.3 1237.4v2.3M47.1 1237.4v2.3M48.7 1237.4v2.3M50.7 1237.4v3.6M56 1237.4v2.5M59.7 1237.4v2.5M62.7 1237.4v2.5M65.1 1237.4v2.5M67.1 1237.4v2.5M68.8 1237.4v2.5M71.8 1237.4v2.5M74.1 1237.4v2.5M76.2 1237.4v2.5M77.9 1237.4v2.5M79.5 1237.4v2.5M80.8 1237.4v3.6M86.1 1237.4v2.5M89.9 1237.4v2.5M92.8 1237.4v2.5M95.2 1237.4v2.5M97.2 1237.4v2.5M99 1237.4v2.5M101.9 1237.4v2.5M104.3 1237.4v2.5M106.3 1237.4v2.5M108.1 1237.4v2.5M109.6 1237.4v2.5M111 1237.4v3.6M116.3 1237.4v2.5M120.1 1237.4v2.5M123 1237.4v2.5M125.4 1237.4v2.5M127.4 1237.4v2.5M129.2 1237.4v2.5M132.1 1237.4v2.5M134.5 1237.4v2.5M136.5 1237.4v2.5M138.3 1237.4v2.5M139.8 1237.4v2.5M141.2 1237.4v3.6M146.5 1237.4v2.5M150.3 1237.4v2.5M153.2 1237.4v2.5M155.6 1237.4v2.5" stroke="#111" stroke-width="1.3" fill="none"/>
<clipPath id="c14"><rect x="173.1" y="1105.4" width="141.4" height="133.2"/></clipPath>
<path d="M173.2 1237.4L173.2 1235L173.7 1234.8L174.2 1234.6L174.7 1234.4L175.2 1234.2L175.7 1234L176.2 1233.8L176.7 1233.6L177.2 1233.5L177.7 1233.3L178.2 1232.9L178.7 1232.7L179.2 1232.4L179.7 1232.2L180.2 1232L180.7 1231.7L181.2 1231.5L181.7 1231.1L182.2 1230.5L182.7 1230.3L183.2 1230.3L183.7 1230L184.2 1229.4L184.7 1229L185.2 1229L185.7 1228.7L186.2 1228.3L186.7 1228.2L187.2 1228L187.7 1227.8L188.2 1227.6L188.7 1227.6L189.2 1228L189.7 1228.2L190.2 1228.1L190.7 1228.4L191.2 1228.7L191.7 1228.9L192.2 1229L192.7 1229.2L193.2 1229.5L193.7 1229.5L194.2 1229L194.7 1228L195.2 1226.4L195.7 1224.9L196.2 1223.2L196.7 1221.7L197.2 1221L197.7 1220.3L198.2 1219.4L198.7 1218.9L199.2 1218.1L199.7 1217.4L200.2 1216.8L200.7 1215.9L201.2 1215L201.7 1213.9L202.2 1212.5L202.7 1211.2L203.2 1209.1L203.7 1207.8L204.2 1206.1L204.7 1204L205.2 1202.5L205.7 1200.2L206.2 1199.1L206.7 1196.7L207.2 1192.1L207.7 1190.3L208.2 1188.6L208.7 1185.6L209.2 1184.3L209.7 1180.6L210.2 1176.7L210.7 1173.3L211.2 1170.9L211.7 1168.5L212.2 1163.9L212.7 1160.9L213.2 1157.6L213.7 1153.8L214.2 1151.6L214.7 1147.4L215.2 1143.4L215.7 1140.1L216.2 1138.8L216.7 1136.8L217.2 1129.9L217.7 1126.4L218.2 1122L218.7 1119.4L219.2 1117.9L219.7 1118.2L220.2 1119.5L220.7 1119.4L221.2 1122L221.7 1122.3L222.2 1118.8L222.7 1120.1L223.2 1126.9L223.7 1130L224.2 1133.7L224.7 1138.9L225.2 1142.8L225.7 1149.2L226.2 1157.1L226.7 1162.5L227.2 1168.5L227.7 1173.2L228.2 1175.9L228.7 1181.2L229.2 1189.7L229.7 1194.7L230.2 1196.9L230.7 1201L231.2 1206.1L231.7 1209.7L232.2 1213L232.7 1216.1L233.2 1218.8L233.7 1221.4L234.2 1224.1L234.7 1226.1L235.2 1227.8L235.7 1229.5L236.2 1231L236.7 1232.2L237.2 1233.3L237.7 1234.2L238.2 1235.1L238.7 1235.9L239.2 1236.5L239.7 1236.9L240.2 1237.2L240.7 1237.4L240.7 1237.4Z" fill="#b6b6b6" clip-path="url(#c14)"/>
<path d="M241 1237.4L241 1237.4L241.5 1237.4L242 1237.3L242.5 1237.2L243 1237.1L243.5 1237L244 1236.7L244.5 1236.3L245 1235.8L245.5 1235.2L246 1234.5L246.5 1233.7L247 1233L247.5 1232.2L248 1231.3L248.5 1230.6L249 1230.1L249.5 1229.4L250 1228.5L250.5 1227.7L251 1227.2L251.5 1226.5L252 1225.6L252.5 1224.9L253 1223.7L253.5 1222.9L254 1222.7L254.5 1221.9L255 1221.3L255.5 1220.4L256 1219.4L256.5 1218.6L257 1217.8L257.5 1217.1L258 1216.2L258.5 1215.5L259 1215.1L259.5 1214.5L260 1213.4L260.5 1212.9L261 1213L261.5 1212.6L262 1212.2L262.5 1211.7L263 1211.3L263.5 1210.7L264 1210L264.5 1209.4L265 1209.3L265.5 1209L266 1208.5L266.5 1208.1L267 1206.5L267.5 1206L268 1206.9L268.5 1206.5L269 1205.7L269.5 1205.1L270 1203.5L270.5 1202.8L271 1203.2L271.5 1202.5L272 1200.8L272.5 1200.1L273 1199.7L273.5 1199.1L274 1198.3L274.5 1197.9L275 1198.3L275.5 1197.6L276 1195.2L276.5 1193.8L277 1191.6L277.5 1189.3L278 1187.9L278.5 1185.5L279 1182.8L279.5 1180.2L280 1177L280.5 1173.5L281 1170.6L281.5 1166.7L282 1162L282.5 1158.2L283 1153.3L283.5 1149.3L284 1144.1L284.5 1139.5L285 1139.5L285.5 1135.6L286 1131.1L286.5 1128.5L287 1126.3L287.5 1122.9L288 1118.4L288.5 1116.3L289 1114.5L289.5 1116.4L290 1120.1L290.5 1123L291 1128.4L291.5 1133.4L292 1140.4L292.5 1147L293 1148.9L293.5 1154.6L294 1162.2L294.5 1169.2L295 1177.4L295.5 1184.4L296 1190.9L296.5 1197.4L297 1203.2L297.5 1208.8L298 1214.6L298.5 1219.6L299 1223.9L299.5 1227.5L300 1230.5L300.5 1233.1L301 1235.2L301.5 1236.6L302 1237.1L302.5 1237.3L303 1237.4L303 1237.4Z" fill="#818181" clip-path="url(#c14)"/>
<path d="M173.6 1236.4L205 1236.4L205.5 1236.4L206 1236.4L206.5 1236.4L207 1236.4L207.5 1236.4L208 1236.4L208.5 1236.4L209 1236.4L209.5 1236.4L210 1236.4L210.5 1236.4L211 1236.4L211.5 1236.3L212 1236.3L212.5 1236.3L213 1236.3L213.5 1236.2L214 1236.1L214.5 1236L215 1235.9L215.5 1235.7L216 1235.6L216.5 1235.5L217 1235.3L217.5 1235.1L218 1234.9L218.5 1234.7L219 1234.6L219.5 1234.4L220 1234.2L220.5 1234L221 1233.9L221.5 1233.7L222 1233.5L222.5 1233.2L223 1233L223.5 1232.7L224 1232.6L224.5 1232.3L225 1231.8L225.5 1231.5L226 1231.1L226.5 1230.7L227 1230.2L227.5 1229.7L228 1229.1L228.5 1228.4L229 1227.4L229.5 1226.3L230 1224.9L230.5 1223.4L231 1221.2L231.5 1219.7L232 1218.8L232.5 1217.1L233 1214.9L233.5 1212.5L234 1210.5L234.5 1208L235 1206.7L235.5 1204.2L236 1200.7L236.5 1197.9L237 1194.7L237.5 1192.5L238 1189.1L238.5 1186.9L239 1185.5L239.5 1183L240 1180.3L240.5 1177.4L241 1175.3L241.5 1172.8L242 1169.7L242.5 1166.8L243 1163.1L243.5 1159.6L244 1157.5L244.5 1154.4L245 1151L245.5 1148.7L246 1144.8L246.5 1143L247 1146.9L247.5 1144.7L248 1137.2L248.5 1134.6L249 1132L249.5 1129.9L250 1129.2L250.5 1127L251 1129.5L251.5 1128.1L252 1127L252.5 1125.6L253 1118.9L253.5 1116.5L254 1120.1L254.5 1119L255 1113L255.5 1112.3L256 1113.2L256.5 1113.8L257 1116.7L257.5 1117.8L258 1118.2L258.5 1119.8L259 1119.7L259.5 1121.1L260 1127.3L260.5 1129.7L261 1132.8L261.5 1135.3L262 1131.6L262.5 1134.1L263 1137.6L263.5 1141.3L264 1147.3L264.5 1151.2L265 1157.9L265.5 1161.9L266 1162.3L266.5 1165.6L267 1170.6L267.5 1172.6L268 1172.1L268.5 1173.9L269 1176L269.5 1178.5L270 1181.5L270.5 1183.8L271 1184.7L271.5 1185.9L272 1186.3L272.5 1187.2L273 1189.3L273.5 1190.5L274 1193.1L274.5 1194.5L275 1194.1L275.5 1195L276 1197.1L276.5 1197.2L277 1197.3L277.5 1197.7L278 1197.9L278.5 1198.6L279 1198.5L279.5 1198.8L280 1199.5L280.5 1200L281 1199.6L281.5 1200.2L282 1199.5L282.5 1199.6L283 1200.6L283.5 1201.4L284 1203L284.5 1203.7L285 1204.1L285.5 1204.9L286 1205.9L286.5 1207L287 1208.2L287.5 1209.4L288 1210.9L288.5 1212.4L289 1213.5L289.5 1215.2L290 1217.6L290.5 1219.6L291 1220.8L291.5 1223L292 1225.7L292.5 1227.3L293 1228.6L293.5 1230L294 1231.2L294.5 1232.4L295 1233.5L295.5 1234.2L296 1234.8L296.5 1235.3L297 1235.7L297.5 1236L298 1236.2L298.5 1236.3L299 1236.3L299.5 1236.4L300 1236.4L300.5 1236.4L301 1236.4L301.5 1236.4L302 1236.4L302.5 1236.4L303 1236.4L314 1236.4" fill="none" stroke="#000" stroke-width="3.2" stroke-linejoin="round" stroke-linecap="butt" clip-path="url(#c14)"/>
<rect x="173.1" y="1106" width="141.4" height="131.4" fill="none" stroke="#111" stroke-width="1.5"/>
<path d="M169.7 1237.4h3.4M171.4 1232.4h1.7M171.4 1227.4h1.7M171.4 1222.4h1.7M171.4 1217.3h1.7M169.7 1212.3h3.4M171.4 1207.3h1.7M171.4 1202.3h1.7M171.4 1197.3h1.7M171.4 1192.3h1.7M169.7 1187.2h3.4M171.4 1182.2h1.7M171.4 1177.2h1.7M171.4 1172.2h1.7M171.4 1167.2h1.7M169.7 1162.2h3.4M171.4 1157.2h1.7M171.4 1152.1h1.7M171.4 1147.1h1.7M171.4 1142.1h1.7M169.7 1137.1h3.4M171.4 1132.1h1.7M171.4 1127.1h1.7M171.4 1122h1.7M171.4 1117h1.7M169.7 1112h3.4M177.3 1237.4v2.3M183 1237.4v2.3M187.9 1237.4v3.3M192.2 1237.4v2.3M195.7 1237.4v2.3M198.6 1237.4v2.3M201 1237.4v2.3M202.8 1237.4v2.3M204.5 1237.4v2.3M206.5 1237.4v3.6M211.9 1237.4v2.5M215.7 1237.4v2.5M218.7 1237.4v2.5M221.2 1237.4v2.5M223.2 1237.4v2.5M225 1237.4v2.5M228 1237.4v2.5M230.5 1237.4v2.5M232.5 1237.4v2.5M234.3 1237.4v2.5M235.9 1237.4v2.5M237.3 1237.4v3.6M242.7 1237.4v2.5M246.6 1237.4v2.5M249.6 1237.4v2.5M252 1237.4v2.5M254.1 1237.4v2.5M255.9 1237.4v2.5M258.8 1237.4v2.5M261.3 1237.4v2.5M263.3 1237.4v2.5M265.1 1237.4v2.5M266.7 1237.4v2.5M268.1 1237.4v3.6M273.5 1237.4v2.5M277.4 1237.4v2.5M280.4 1237.4v2.5M282.8 1237.4v2.5M284.9 1237.4v2.5M286.7 1237.4v2.5M289.7 1237.4v2.5M292.1 1237.4v2.5M294.2 1237.4v2.5M296 1237.4v2.5M297.5 1237.4v2.5M298.9 1237.4v3.6M304.4 1237.4v2.5M308.2 1237.4v2.5M311.2 1237.4v2.5M313.7 1237.4v2.5" stroke="#111" stroke-width="1.3" fill="none"/>
<clipPath id="c15"><rect x="330.9" y="1103.4" width="141.4" height="135.2"/></clipPath>
<path d="M331 1237.4L331 1235.1L331.5 1234.9L332 1234.7L332.5 1234.5L333 1234.1L333.5 1233.9L334 1233.7L334.5 1233.4L335 1233.3L335.5 1233L336 1232.7L336.5 1232.5L337 1232.3L337.5 1232.1L338 1231.8L338.5 1231.6L339 1231.5L339.5 1231.2L340 1231L340.5 1230.8L341 1230.7L341.5 1230.4L342 1230.1L342.5 1229.7L343 1229.3L343.5 1229.1L344 1228.7L344.5 1228.5L345 1228.1L345.5 1227.8L346 1228L346.5 1227.8L347 1227.3L347.5 1227.1L348 1227.2L348.5 1227L349 1226.5L349.5 1226.3L350 1226.3L350.5 1226.1L351 1225.7L351.5 1225.5L352 1225.4L352.5 1225.2L353 1224.9L353.5 1224.6L354 1224.5L354.5 1224.1L355 1223.1L355.5 1221.9L356 1220.1L356.5 1218.8L357 1217.5L357.5 1216L358 1214.5L358.5 1213.4L359 1212.4L359.5 1210.9L360 1208.9L360.5 1207.1L361 1205.7L361.5 1204L362 1202.2L362.5 1200.3L363 1199.4L363.5 1197L364 1193.3L364.5 1190.6L365 1189.1L365.5 1186.5L366 1182.1L366.5 1179.6L367 1176.1L367.5 1173.1L368 1173L368.5 1169.6L369 1163.4L369.5 1160.7L370 1157.9L370.5 1156.7L371 1158.2L371.5 1157L372 1152.8L372.5 1151.8L373 1154.6L373.5 1152.6L374 1145.1L374.5 1140.8L375 1138.5L375.5 1135.7L376 1133L376.5 1129.7L377 1126.7L377.5 1122.8L378 1119.5L378.5 1117.8L379 1113.8L379.5 1112.5L380 1118.6L380.5 1119.9L381 1120.1L381.5 1121L382 1117.9L382.5 1118.3L383 1119.2L383.5 1123.7L384 1134.3L384.5 1139.2L385 1141.4L385.5 1146.1L386 1152.3L386.5 1157.6L387 1162.4L387.5 1167.4L388 1170.2L388.5 1175.8L389 1183.1L389.5 1188.5L390 1193.1L390.5 1197.7L391 1202.1L391.5 1206.5L392 1210.6L392.5 1214.5L393 1217.6L393.5 1220.2L394 1222.8L394.5 1224.9L395 1226.8L395.5 1228.4L396 1229.9L396.5 1231L397 1231.9L397.5 1232.7L398 1233.5L398.5 1234.3L399 1234.9L399.5 1235.5L400 1236L400.5 1236.4L401 1236.8L401.5 1237.1L402 1237.4L402 1237.4Z" fill="#b6b6b6" clip-path="url(#c15)"/>
<path d="M399 1237.4L399 1237.4L399.5 1237.2L400 1236.9L400.5 1236.6L401 1236.3L401.5 1235.9L402 1235.4L402.5 1234.9L403 1234.3L403.5 1233.6L404 1233L404.5 1232.2L405 1231.4L405.5 1230.6L406 1229.9L406.5 1229.1L407 1228.5L407.5 1227.9L408 1227.3L408.5 1226.7L409 1226.2L409.5 1225.6L410 1225.3L410.5 1224.6L411 1223.9L411.5 1223.2L412 1222.5L412.5 1221.8L413 1220.6L413.5 1219.9L414 1219.7L414.5 1219L415 1218.2L415.5 1217.5L416 1217.3L416.5 1216.6L417 1215L417.5 1214.2L418 1213L418.5 1212.2L419 1211.7L419.5 1210.9L420 1210.3L420.5 1209.3L421 1208.6L421.5 1207.7L422 1205.9L422.5 1205.3L423 1204.8L423.5 1204.4L424 1204.7L424.5 1204.2L425 1203.6L425.5 1203.3L426 1203L426.5 1202.6L427 1203L427.5 1202.9L428 1201.7L428.5 1201.5L429 1202.2L429.5 1201.6L430 1200.7L430.5 1200.3L431 1200.3L431.5 1199.7L432 1197.7L432.5 1196.8L433 1198L433.5 1197.3L434 1195.7L434.5 1194.5L435 1192.4L435.5 1190.6L436 1188.1L436.5 1185.8L437 1183.4L437.5 1180.8L438 1179L438.5 1175.3L439 1170.7L439.5 1167.1L440 1164.4L440.5 1160.3L441 1154.2L441.5 1149.6L442 1144.9L442.5 1140.8L443 1138.6L443.5 1134.7L444 1127.4L444.5 1123.8L445 1122.3L445.5 1119.2L446 1115.8L446.5 1114L447 1116.2L447.5 1116.9L448 1117.1L448.5 1120.5L449 1122.9L449.5 1128.2L450 1136.7L450.5 1143.6L451 1151.7L451.5 1157.9L452 1162.8L452.5 1169.8L453 1178.9L453.5 1185.6L454 1190.6L454.5 1197L455 1203.1L455.5 1208.5L456 1213.5L456.5 1219.1L457 1224.1L457.5 1227.6L458 1229.9L458.5 1231.8L459 1233.2L459.5 1234.6L460 1235.6L460.5 1236.3L461 1236.8L461.5 1237.2L462 1237.4L462 1237.4Z" fill="#818181" clip-path="url(#c15)"/>
<path d="M331.4 1236.3L365 1236.3L365.5 1236.3L366 1236.3L366.5 1236.3L367 1236.3L367.5 1236.3L368 1236.2L368.5 1236.2L369 1236.2L369.5 1236.2L370 1236.2L370.5 1236.2L371 1236.1L371.5 1236.1L372 1236.1L372.5 1236.1L373 1236L373.5 1236L374 1235.9L374.5 1235.8L375 1235.7L375.5 1235.6L376 1235.4L376.5 1235.2L377 1235L377.5 1234.8L378 1234.6L378.5 1234.3L379 1234.1L379.5 1233.9L380 1233.7L380.5 1233.5L381 1233.4L381.5 1233.2L382 1233L382.5 1232.8L383 1232.3L383.5 1232.1L384 1232.1L384.5 1231.9L385 1231.6L385.5 1231.4L386 1230.8L386.5 1230.4L387 1230.1L387.5 1229.6L388 1228.8L388.5 1228L389 1226.7L389.5 1225.3L390 1224.1L390.5 1222.4L391 1220.5L391.5 1218.6L392 1216.7L392.5 1214.3L393 1210.7L393.5 1208L394 1206.1L394.5 1203.9L395 1201.4L395.5 1199.2L396 1198.9L396.5 1196.6L397 1194.9L397.5 1192L398 1185.1L398.5 1182.8L399 1181.9L399.5 1179.9L400 1176.2L400.5 1173L401 1170.3L401.5 1167.2L402 1165.4L402.5 1163.7L403 1159.7L403.5 1158L404 1155.6L404.5 1151.9L405 1150.1L405.5 1146.7L406 1146.5L406.5 1144.6L407 1138.5L407.5 1135.2L408 1136.2L408.5 1131.8L409 1123.5L409.5 1120L410 1116.8L410.5 1114.5L411 1114.8L411.5 1115L412 1112.4L412.5 1111.9L413 1115.1L413.5 1113.8L414 1116.2L414.5 1115.2L415 1113.2L415.5 1113.4L416 1112.6L416.5 1115.6L417 1118L417.5 1120.9L418 1127.9L418.5 1129.8L419 1132L419.5 1133.2L420 1134.5L420.5 1134.6L421 1127.9L421.5 1126.3L422 1122L422.5 1119.6L423 1127.7L423.5 1128.6L424 1129.2L424.5 1132.1L425 1130.9L425.5 1133.4L426 1136.7L426.5 1138.1L427 1141.7L427.5 1143.3L428 1143.1L428.5 1144.4L429 1139.6L429.5 1141.2L430 1142.9L430.5 1144.6L431 1151.4L431.5 1153L432 1150L432.5 1152.6L433 1156.3L433.5 1158.3L434 1160.5L434.5 1161.8L435 1161.9L435.5 1163.8L436 1167.9L436.5 1170L437 1169.3L437.5 1170.6L438 1177.8L438.5 1178.6L439 1178.1L439.5 1179.4L440 1176.8L440.5 1177.9L441 1181.3L441.5 1182.6L442 1185.2L442.5 1186.9L443 1187.1L443.5 1189.3L444 1194.5L444.5 1196.6L445 1197.4L445.5 1199.5L446 1201.7L446.5 1204L447 1204.3L447.5 1206.5L448 1209.4L448.5 1211.4L449 1213.3L449.5 1215L450 1216.5L450.5 1218.2L451 1219.9L451.5 1221.4L452 1222.7L452.5 1223.9L453 1225.1L453.5 1226.4L454 1227.6L454.5 1228.8L455 1229.8L455.5 1230.6L456 1231.4L456.5 1232.1L457 1232.9L457.5 1233.5L458 1234L458.5 1234.4L459 1234.7L459.5 1234.9L460 1235.1L460.5 1235.3L461 1235.3L461.5 1235.5L462 1235.6L462.5 1235.7L463 1235.8L463.5 1235.9L464 1235.9L464.5 1236L465 1236.1L465.5 1236.1L466 1236.1L466.5 1236.2L467 1236.2L467.5 1236.3L468 1236.3L468.5 1236.3L469 1236.3L471.8 1236.3" fill="none" stroke="#000" stroke-width="3.2" stroke-linejoin="round" stroke-linecap="butt" clip-path="url(#c15)"/>
<rect x="330.9" y="1104" width="141.4" height="133.4" fill="none" stroke="#262626" stroke-width="1.5"/>
<path d="M327.5 1237.4h3.4M329.2 1232.3h1.7M329.2 1227.2h1.7M329.2 1222.1h1.7M329.2 1217h1.7M327.5 1211.9h3.4M329.2 1206.9h1.7M329.2 1201.8h1.7M329.2 1196.7h1.7M329.2 1191.6h1.7M327.5 1186.5h3.4M329.2 1181.4h1.7M329.2 1176.3h1.7M329.2 1171.2h1.7M329.2 1166.1h1.7M327.5 1161h3.4M329.2 1155.9h1.7M329.2 1150.8h1.7M329.2 1145.8h1.7M329.2 1140.7h1.7M327.5 1135.6h3.4M329.2 1130.5h1.7M329.2 1125.4h1.7M329.2 1120.3h1.7M329.2 1115.2h1.7M327.5 1110.1h3.4M335.1 1237.4v2.3M340.8 1237.4v2.3M345.7 1237.4v3.3M350 1237.4v2.3M353.5 1237.4v2.3M356.4 1237.4v2.3M358.8 1237.4v2.3M360.6 1237.4v2.3M362.3 1237.4v2.3M364.3 1237.4v3.6M369.7 1237.4v2.5M373.5 1237.4v2.5M376.5 1237.4v2.5M379 1237.4v2.5M381 1237.4v2.5M382.8 1237.4v2.5M385.8 1237.4v2.5M388.3 1237.4v2.5M390.3 1237.4v2.5M392.1 1237.4v2.5M393.7 1237.4v2.5M395.1 1237.4v3.6M400.5 1237.4v2.5M404.4 1237.4v2.5M407.4 1237.4v2.5M409.8 1237.4v2.5M411.9 1237.4v2.5M413.7 1237.4v2.5M416.6 1237.4v2.5M419.1 1237.4v2.5M421.1 1237.4v2.5M422.9 1237.4v2.5M424.5 1237.4v2.5M425.9 1237.4v3.6M431.3 1237.4v2.5M435.2 1237.4v2.5M438.2 1237.4v2.5M440.6 1237.4v2.5M442.7 1237.4v2.5M444.5 1237.4v2.5M447.5 1237.4v2.5M449.9 1237.4v2.5M452 1237.4v2.5M453.8 1237.4v2.5M455.3 1237.4v2.5M456.7 1237.4v3.6M462.2 1237.4v2.5M466 1237.4v2.5M469 1237.4v2.5M471.5 1237.4v2.5" stroke="#262626" stroke-width="1.3" fill="none"/>
<text x="9.7" y="1173.5" font-size="14.3" font-weight="normal" text-anchor="middle" fill="#000" textLength="27.4" lengthAdjust="spacingAndGlyphs" stroke="#000" stroke-width="0.7" transform="rotate(-90 9.7 1173.5)">RCN</text>
<path d="M21 1256.2H226.2" stroke="#000" stroke-width="1.3" fill="none"/>
<path d="M266 1256.2H465" stroke="#000" stroke-width="1.3" fill="none"/>
<text x="234.5" y="1260.2" font-size="12.4" font-weight="bold" text-anchor="start" fill="#000" textLength="23" lengthAdjust="spacingAndGlyphs">GrB</text>
<path d="M475.2 1256.2L459.2 1251.6L463 1256.2L459.2 1260.8Z" fill="#000"/>
<text x="481.8" y="1173.2" font-size="15.4" font-weight="normal" text-anchor="start" fill="#000" textLength="36.7" lengthAdjust="spacingAndGlyphs" stroke="#000" stroke-width="0.65">day 2</text>
<text x="24.3" y="944.6" font-size="12.4" font-weight="bold" text-anchor="start" fill="#000" textLength="34.4" lengthAdjust="spacingAndGlyphs" stroke="#000" stroke-width="0.25">Δ MFI</text>
<text x="24.6" y="960" font-size="12.4" font-weight="bold" text-anchor="start" fill="#000" textLength="35.6" lengthAdjust="spacingAndGlyphs" stroke="#000" stroke-width="0.25">+5937</text>
<text x="180.6" y="944.6" font-size="12.4" font-weight="bold" text-anchor="start" fill="#000" textLength="34.4" lengthAdjust="spacingAndGlyphs" stroke="#000" stroke-width="0.25">Δ MFI</text>
<text x="180.9" y="960" font-size="12.4" font-weight="bold" text-anchor="start" fill="#000" textLength="39.8" lengthAdjust="spacingAndGlyphs" stroke="#000" stroke-width="0.25">-11558</text>
<text x="337.9" y="944.6" font-size="12.4" font-weight="bold" text-anchor="start" fill="#000" textLength="34.4" lengthAdjust="spacingAndGlyphs" stroke="#000" stroke-width="0.25">Δ MFI</text>
<text x="338.2" y="960" font-size="12.4" font-weight="bold" text-anchor="start" fill="#000" textLength="33.4" lengthAdjust="spacingAndGlyphs" stroke="#000" stroke-width="0.25">-8632</text>
<text x="21.3" y="1118.3" font-size="12.4" font-weight="bold" text-anchor="start" fill="#000" textLength="34.4" lengthAdjust="spacingAndGlyphs" stroke="#000" stroke-width="0.25">Δ MFI</text>
<text x="21.6" y="1134.3" font-size="12.4" font-weight="bold" text-anchor="start" fill="#000" textLength="43.2" lengthAdjust="spacingAndGlyphs" stroke="#000" stroke-width="0.25">+12528</text>
<text x="176" y="1118.5" font-size="12.4" font-weight="bold" text-anchor="start" fill="#000" textLength="34.4" lengthAdjust="spacingAndGlyphs" stroke="#000" stroke-width="0.25">Δ MFI</text>
<text x="176.3" y="1134.5" font-size="12.4" font-weight="bold" text-anchor="start" fill="#000" textLength="40" lengthAdjust="spacingAndGlyphs" stroke="#000" stroke-width="0.25">-19222</text>
<text x="334.6" y="1117.4" font-size="12.4" font-weight="bold" text-anchor="start" fill="#000" textLength="34.4" lengthAdjust="spacingAndGlyphs" stroke="#000" stroke-width="0.25">Δ MFI</text>
<text x="334.9" y="1133.4" font-size="12.4" font-weight="bold" text-anchor="start" fill="#000" textLength="40.5" lengthAdjust="spacingAndGlyphs" stroke="#000" stroke-width="0.25">-17597</text>
</svg>
</body></html>
